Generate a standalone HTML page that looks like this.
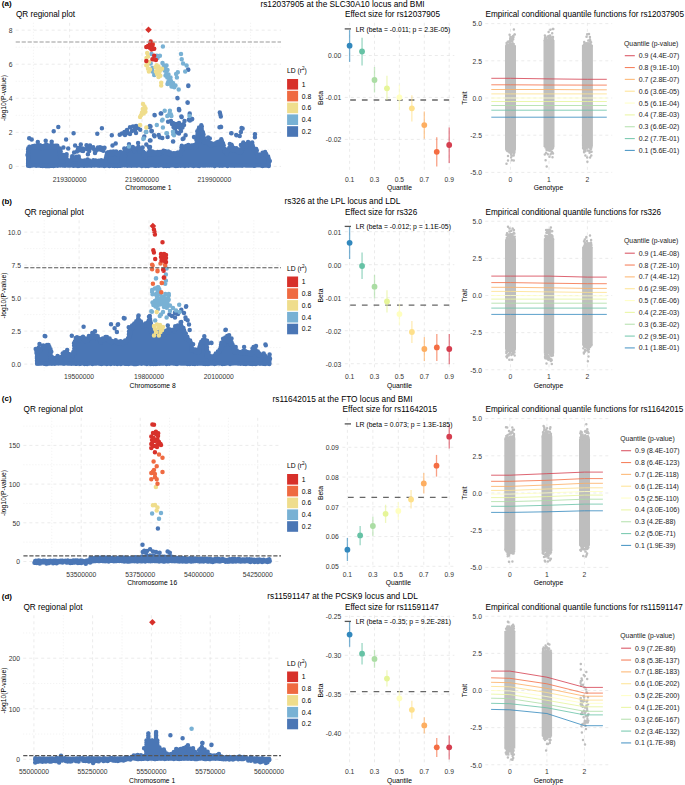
<!DOCTYPE html>
<html><head><meta charset="utf-8"><style>html,body{margin:0;padding:0;background:#fff;overflow:hidden}svg{display:block}text{font-family:"Liberation Sans", sans-serif}</style></head>
<body><svg width="685" height="785" viewBox="0 0 685 785" font-family='"Liberation Sans", sans-serif'>
<rect width="685" height="785" fill="#fff"/>
<text x="1.80" y="6.10" font-size="8.0" font-weight="bold" fill="#000">(a)</text>
<text x="342.50" y="6.70" font-size="8.3" text-anchor="middle" fill="#000">rs12037905 at the SLC30A10 locus and BMI</text>
<text x="15.90" y="17.00" font-size="8.2" fill="#000">QR regional plot</text>
<line x1="15.70" y1="149.37" x2="281.00" y2="149.37" stroke="#ececec" stroke-width="0.75" stroke-dasharray="1,2"/>
<line x1="15.70" y1="115.31" x2="281.00" y2="115.31" stroke="#ececec" stroke-width="0.75" stroke-dasharray="1,2"/>
<line x1="15.70" y1="81.25" x2="281.00" y2="81.25" stroke="#ececec" stroke-width="0.75" stroke-dasharray="1,2"/>
<line x1="15.70" y1="47.19" x2="281.00" y2="47.19" stroke="#ececec" stroke-width="0.75" stroke-dasharray="1,2"/>
<line x1="33.40" y1="22.80" x2="33.40" y2="173.20" stroke="#ececec" stroke-width="0.75" stroke-dasharray="1,2"/>
<line x1="105.80" y1="22.80" x2="105.80" y2="173.20" stroke="#ececec" stroke-width="0.75" stroke-dasharray="1,2"/>
<line x1="178.20" y1="22.80" x2="178.20" y2="173.20" stroke="#ececec" stroke-width="0.75" stroke-dasharray="1,2"/>
<line x1="250.60" y1="22.80" x2="250.60" y2="173.20" stroke="#ececec" stroke-width="0.75" stroke-dasharray="1,2"/>
<line x1="15.70" y1="166.40" x2="281.00" y2="166.40" stroke="#e2e2e2" stroke-width="0.7" stroke-dasharray="3,3"/>
<text x="12.40" y="169.20" font-size="6.75" text-anchor="end" fill="#333333">0</text>
<line x1="15.70" y1="132.34" x2="281.00" y2="132.34" stroke="#e2e2e2" stroke-width="0.7" stroke-dasharray="3,3"/>
<text x="12.40" y="135.14" font-size="6.75" text-anchor="end" fill="#333333">2</text>
<line x1="15.70" y1="98.28" x2="281.00" y2="98.28" stroke="#e2e2e2" stroke-width="0.7" stroke-dasharray="3,3"/>
<text x="12.40" y="101.08" font-size="6.75" text-anchor="end" fill="#333333">4</text>
<line x1="15.70" y1="64.22" x2="281.00" y2="64.22" stroke="#e2e2e2" stroke-width="0.7" stroke-dasharray="3,3"/>
<text x="12.40" y="67.02" font-size="6.75" text-anchor="end" fill="#333333">6</text>
<line x1="15.70" y1="30.16" x2="281.00" y2="30.16" stroke="#e2e2e2" stroke-width="0.7" stroke-dasharray="3,3"/>
<text x="12.40" y="32.96" font-size="6.75" text-anchor="end" fill="#333333">8</text>
<line x1="69.60" y1="22.80" x2="69.60" y2="173.20" stroke="#e2e2e2" stroke-width="0.7" stroke-dasharray="3,3"/>
<text x="69.60" y="181.80" font-size="6.75" text-anchor="middle" fill="#333333">219300000</text>
<line x1="142.00" y1="22.80" x2="142.00" y2="173.20" stroke="#e2e2e2" stroke-width="0.7" stroke-dasharray="3,3"/>
<text x="142.00" y="181.80" font-size="6.75" text-anchor="middle" fill="#333333">219600000</text>
<line x1="214.40" y1="22.80" x2="214.40" y2="173.20" stroke="#e2e2e2" stroke-width="0.7" stroke-dasharray="3,3"/>
<text x="214.40" y="181.80" font-size="6.75" text-anchor="middle" fill="#333333">219900000</text>
<text x="148.35" y="190.30" font-size="6.75" text-anchor="middle" fill="#000">Chromosome 1</text>
<text x="5.60" y="98.00" font-size="6.75" text-anchor="middle" fill="#000" transform="rotate(-90 5.60 98.00)">-log10(P-value)</text>
<polygon points="26.1,153.2 27.0,149.2 29.0,147.7 32.2,146.7 37.8,145.7 42.0,146.2 45.7,144.7 50.0,146.2 53.0,145.7 57.0,146.2 59.8,148.2 60.5,154.8 66.5,155.2 67.0,160.0 72.0,160.0 72.5,156.8 79.2,156.8 79.5,161.0 89.0,161.0 105.4,161.0 106.5,153.2 108.5,152.8 115.7,152.2 120.8,152.8 121.8,161.0 123.8,161.0 124.5,149.2 128.0,148.2 138.1,147.7 142.2,148.2 143.0,151.2 145.3,154.2 148.0,152.2 150.4,151.8 155.0,152.8 165.8,151.2 170.0,152.8 180.7,152.8 181.5,145.7 196.0,145.7 197.5,135.2 199.0,127.2 201.5,126.2 202.5,133.2 203.5,138.7 204.7,139.7 208.0,141.2 211.7,143.3 215.2,143.3 219.0,141.7 221.6,139.7 223.4,145.7 225.1,149.8 226.3,152.7 228.0,150.3 231.0,145.2 233.9,148.6 238.5,149.2 240.3,150.3 244.4,145.2 247.9,142.8 251.4,144.0 253.7,148.1 256.0,149.2 257.2,155.1 259.6,154.5 264.8,152.7 268.3,156.8 270.7,162.1 270.7,166.2 26.1,166.2" fill="#4a76b5"/>
<path d="M28.1 153.1h0M27.5 155.1h0M28.1 151.5h0M28.8 153.1h0M29.1 148.5h0M28.1 149.2h0M28.7 151.0h0M29.4 146.8h0M28.3 148.3h0M32.6 146.2h0M32.5 147.7h0M34.9 145.7h0M34.9 147.4h0M37.5 145.5h0M36.4 147.8h0M40.0 145.2h0M39.3 147.7h0M41.6 146.0h0M42.1 148.4h0M44.2 145.7h0M44.6 147.6h0M46.1 144.4h0M46.3 145.9h0M48.1 145.4h0M47.9 147.1h0M50.2 145.6h0M50.1 147.7h0M53.0 145.5h0M52.8 147.5h0M51.7 141.8h0M55.5 145.8h0M54.7 147.8h0M57.3 145.7h0M57.4 148.1h0M59.8 148.4h0M59.7 150.1h0M60.5 149.8h0M59.3 152.1h0M60.7 151.8h0M60.7 153.9h0M60.1 155.6h0M60.9 157.7h0M63.5 154.9h0M63.1 157.0h0M66.6 154.3h0M66.5 155.9h0M66.4 158.2h0M67.1 160.5h0M66.8 160.0h0M67.6 162.1h0M69.0 160.6h0M68.4 162.2h0M71.8 159.2h0M70.8 160.8h0M72.2 156.2h0M72.1 158.0h0M74.3 157.4h0M74.0 159.3h0M76.6 156.8h0M75.9 158.9h0M78.7 156.6h0M77.6 158.2h0M79.0 158.4h0M79.1 160.1h0M79.8 161.4h0M79.8 163.1h0M81.8 160.8h0M82.1 162.3h0M84.7 160.4h0M85.6 162.2h0M86.4 161.4h0M86.2 163.2h0M87.6 159.5h0M89.3 160.6h0M90.4 162.7h0M91.7 161.4h0M91.7 163.3h0M93.4 160.3h0M93.8 162.2h0M95.6 160.4h0M95.6 162.3h0M98.8 160.7h0M97.6 162.4h0M101.2 160.2h0M100.5 162.4h0M103.5 160.9h0M103.1 163.2h0M105.4 160.7h0M105.9 162.3h0M106.2 157.5h0M105.5 159.8h0M106.5 155.4h0M106.0 157.8h0M107.0 152.9h0M107.9 154.5h0M108.1 152.2h0M109.0 154.5h0M110.7 151.7h0M111.0 154.0h0M113.4 151.5h0M112.8 153.9h0M116.1 151.6h0M116.0 153.4h0M118.6 152.9h0M117.6 154.5h0M120.3 152.0h0M119.7 154.4h0M120.7 154.9h0M121.3 156.5h0M121.3 157.9h0M122.5 160.3h0M121.6 160.5h0M121.9 162.0h0M123.0 157.9h0M123.9 160.1h0M123.8 161.9h0M125.1 155.7h0M124.4 158.2h0M124.7 160.6h0M124.3 155.7h0M124.7 157.5h0M124.0 153.0h0M123.5 155.5h0M124.5 151.0h0M124.9 153.4h0M124.3 148.6h0M125.1 151.0h0M127.8 147.9h0M127.9 150.0h0M130.3 147.8h0M129.2 149.8h0M129.0 144.3h0M132.8 147.1h0M133.5 149.1h0M135.2 148.5h0M134.2 150.9h0M138.4 146.8h0M139.5 149.1h0M139.8 149.0h0M139.3 151.4h0M142.6 147.4h0M141.5 149.2h0M143.3 151.7h0M143.9 153.9h0M144.1 152.7h0M143.3 154.9h0M145.1 155.4h0M145.8 157.4h0M148.4 152.2h0M148.2 154.1h0M150.2 152.1h0M150.0 154.2h0M149.7 150.0h0M152.3 151.5h0M151.7 153.9h0M154.9 152.3h0M153.7 154.4h0M157.8 151.9h0M157.7 154.1h0M160.1 152.1h0M159.5 154.0h0M163.5 150.7h0M164.5 152.5h0M165.3 151.2h0M166.3 152.9h0M168.3 151.5h0M167.8 153.7h0M169.9 152.3h0M170.1 154.6h0M173.1 153.3h0M173.3 154.9h0M175.1 153.2h0M174.0 155.4h0M177.9 152.5h0M177.9 154.2h0M180.2 153.5h0M180.5 155.2h0M181.4 149.7h0M180.6 152.0h0M181.4 147.4h0M182.4 149.9h0M181.8 145.7h0M181.6 147.3h0M183.5 146.7h0M182.6 148.8h0M186.0 146.0h0M185.5 147.7h0M188.3 145.1h0M187.1 147.2h0M191.5 145.6h0M190.8 147.4h0M193.4 145.3h0M193.8 147.6h0M196.5 145.1h0M196.6 147.1h0M196.6 142.9h0M196.1 144.5h0M196.4 139.9h0M197.0 141.9h0M197.4 137.4h0M197.4 139.4h0M197.5 134.3h0M197.2 136.4h0M197.3 131.3h0M197.8 132.9h0M198.2 134.8h0M198.4 129.8h0M197.7 131.4h0M199.1 127.5h0M199.1 130.0h0M201.8 126.4h0M201.6 128.6h0M201.6 128.2h0M201.7 130.0h0M201.3 125.2h0M202.1 131.0h0M202.9 133.1h0M202.9 132.3h0M203.5 134.4h0M203.1 136.0h0M202.9 138.2h0M203.9 138.1h0M204.6 140.4h0M204.5 140.5h0M204.0 142.7h0M208.0 141.2h0M208.0 143.2h0M208.1 137.4h0M209.8 142.7h0M209.4 144.9h0M209.8 138.4h0M211.9 143.6h0M212.1 145.3h0M215.6 143.2h0M215.0 144.8h0M217.1 142.3h0M217.7 144.0h0M219.2 141.5h0M220.0 143.3h0M221.3 139.3h0M222.0 141.6h0M221.9 141.0h0M223.0 143.2h0M222.3 143.8h0M221.9 145.7h0M223.7 145.5h0M222.9 147.6h0M224.7 148.7h0M225.3 150.8h0M225.1 149.5h0M224.3 151.2h0M226.2 151.8h0M226.7 154.0h0M227.6 150.1h0M227.4 152.1h0M229.2 148.0h0M230.1 149.7h0M229.8 144.0h0M231.5 144.7h0M231.7 146.5h0M232.1 146.1h0M231.8 148.1h0M233.6 148.0h0M232.9 150.3h0M236.3 148.3h0M235.9 150.4h0M239.0 149.6h0M237.9 151.9h0M240.1 150.3h0M241.1 152.2h0M241.9 148.5h0M241.1 150.9h0M240.9 144.9h0M242.6 146.3h0M242.5 148.7h0M243.9 144.6h0M242.9 146.9h0M243.3 142.5h0M245.7 144.3h0M246.3 146.5h0M248.1 142.1h0M247.8 144.2h0M251.5 143.1h0M252.6 145.2h0M252.7 145.4h0M252.8 147.4h0M252.2 142.5h0M253.4 147.8h0M253.8 150.1h0M256.2 148.9h0M256.8 150.6h0M256.3 152.7h0M257.1 154.3h0M257.5 155.0h0M257.4 156.9h0M259.1 154.5h0M258.2 156.4h0M262.6 152.8h0M261.4 154.9h0M265.1 152.0h0M264.8 154.2h0M266.2 153.9h0M266.9 156.2h0M268.1 156.5h0M268.2 158.3h0M268.7 158.8h0M269.8 160.9h0M268.7 161.2h0M28.1 165.5h0M28.1 165.7h0M28.9 165.7h0M30.0 165.9h0M31.5 165.4h0M32.4 165.4h0M33.9 165.2h0M35.1 165.6h0M36.2 165.8h0M37.9 165.4h0M39.0 165.4h0M40.3 165.7h0M41.7 165.6h0M42.8 165.9h0M44.2 165.4h0M45.3 165.9h0M46.9 165.9h0M48.5 165.9h0M49.7 165.9h0M51.1 165.8h0M51.9 165.6h0M53.4 165.9h0M54.9 165.7h0M56.1 165.4h0M57.6 165.7h0M58.5 165.5h0M60.2 165.6h0M61.0 165.3h0M62.6 165.6h0M64.0 165.3h0M65.0 165.7h0M66.1 165.2h0M67.7 165.4h0M68.8 165.4h0M70.4 165.6h0M71.3 165.2h0M73.1 165.7h0M74.0 165.8h0M75.2 165.4h0M77.0 165.7h0M78.0 165.9h0M79.5 165.8h0M80.9 165.5h0M82.1 165.6h0M83.6 165.8h0M84.7 165.8h0M86.2 165.4h0M87.0 165.7h0M88.7 165.6h0M89.8 165.5h0M91.3 165.8h0M92.5 165.2h0M93.9 165.5h0M94.8 165.4h0M96.4 165.2h0M97.4 165.4h0M99.1 165.7h0M100.5 165.6h0M101.5 165.6h0M102.8 165.6h0M104.3 165.9h0M105.3 165.7h0M106.6 165.4h0M108.0 165.6h0M109.3 165.9h0M110.4 165.7h0M112.2 165.7h0M113.2 165.4h0M114.4 165.9h0M116.0 165.7h0M117.3 165.9h0M118.6 165.5h0M119.7 165.8h0M120.9 165.7h0M122.3 165.4h0M123.6 165.2h0M124.8 165.5h0M125.9 165.3h0M127.4 165.8h0M128.9 165.4h0M130.4 165.4h0M131.4 165.7h0M132.8 165.5h0M134.2 165.5h0M135.4 165.5h0M136.9 165.7h0M137.7 165.3h0M139.5 165.3h0M140.2 165.4h0M141.8 165.9h0M143.0 165.7h0M144.6 165.2h0M145.8 165.9h0M147.0 165.6h0M148.2 165.9h0M149.9 165.2h0M150.9 165.5h0M152.3 165.2h0M153.4 165.4h0M154.8 165.8h0M156.3 165.8h0M157.5 165.2h0M158.6 165.7h0M159.9 165.6h0M161.5 165.2h0M162.8 165.2h0M163.8 165.9h0M165.0 165.6h0M166.4 165.9h0M168.1 165.4h0M169.1 165.9h0M170.4 165.3h0M171.9 165.4h0M173.0 165.2h0M174.6 165.7h0M175.9 165.9h0M176.8 165.6h0M178.2 165.8h0M179.7 165.3h0M180.7 165.7h0M182.0 165.3h0M183.2 165.6h0M184.8 165.9h0M186.0 165.6h0M187.1 165.5h0M188.5 165.7h0M189.8 165.3h0M191.1 165.5h0M192.4 165.6h0M193.6 165.9h0M195.2 165.6h0M196.1 165.4h0M197.8 165.7h0M199.2 165.9h0M200.2 165.5h0M201.5 165.3h0M202.7 165.4h0M204.0 165.6h0M205.6 165.6h0M206.9 165.3h0M207.9 165.6h0M209.6 165.5h0M210.4 165.2h0M211.9 165.6h0M213.1 165.3h0M214.7 165.9h0M215.8 165.6h0M217.2 165.2h0M218.4 165.3h0M219.7 165.8h0M221.2 165.2h0M222.1 165.7h0M223.5 165.4h0M224.9 165.2h0M226.0 165.3h0M227.5 165.9h0M229.0 165.3h0M230.3 165.4h0M231.5 165.4h0M233.1 165.4h0M234.3 165.7h0M235.6 165.6h0M236.9 165.5h0M238.1 165.6h0M239.3 165.6h0M240.6 165.5h0M242.1 165.7h0M243.2 165.2h0M244.5 165.3h0M245.6 165.5h0M247.1 165.4h0M248.3 165.6h0M249.7 165.5h0M250.8 165.4h0M252.4 165.6h0M253.6 165.8h0M255.0 165.7h0M255.9 165.4h0M257.6 165.3h0M259.0 165.3h0M260.3 165.3h0M261.6 165.8h0M262.6 165.9h0M263.8 165.8h0M265.2 165.5h0M266.4 165.6h0M267.8 165.7h0M268.7 165.6h0M268.7 165.9h0M28.4 152.2h0M28.2 153.7h0M28.1 155.1h0M28.2 156.5h0M28.4 157.9h0M28.1 159.3h0M28.3 160.7h0M28.2 162.1h0M28.1 163.5h0M28.4 164.9h0M268.6 161.2h0M268.7 162.6h0M268.4 164.0h0M268.7 165.4h0" stroke="#4a76b5" stroke-width="4.50" stroke-linecap="round" fill="none"/>

<polygon points="76.0,149.7 80.0,148.2 84.0,148.7 90.0,147.7 96.0,148.7 100.0,147.7 106.5,148.7 106.5,148.7 76.0,148.7" fill="#4a76b5"/>
<path d="M78.0 149.1h0M77.0 151.5h0M78.2 148.1h0M77.7 150.2h0M80.1 147.9h0M79.8 150.2h0M82.4 148.6h0M82.6 150.5h0M83.5 149.1h0M83.1 151.0h0M87.0 147.5h0M87.2 149.2h0M86.5 145.3h0M90.0 148.5h0M89.2 150.9h0M93.2 147.3h0M94.2 149.5h0M95.9 150.8h0M95.0 153.0h0M98.0 147.6h0M98.0 149.6h0M100.0 147.3h0M100.9 149.7h0M102.2 148.1h0M103.2 150.3h0M104.1 148.3h0M103.3 150.7h0M104.5 147.8h0" stroke="#4a76b5" stroke-width="4.50" stroke-linecap="round" fill="none"/>
<path d="M58.3 127.0h0M53.7 131.2h0M73.6 133.3h0M66.1 139.4h0M29.2 138.2h0M31.7 139.6h0M37.8 142.0h0M45.7 140.7h0M63.4 147.6h0M68.2 148.4h0M75.1 145.5h0M80.8 144.5h0M82.3 150.7h0M87.9 154.2h0M74.1 152.5h0M90.0 145.5h0M101.9 128.2h0M97.3 133.8h0M111.8 135.3h0M115.7 143.5h0M112.5 145.5h0M138.1 143.0h0M119.7 134.8h0M122.0 133.5h0M124.5 132.0h0M127.0 130.0h0M130.0 127.2h0M133.0 126.5h0M136.1 126.1h0M138.0 128.0h0M140.2 129.7h0M128.0 133.0h0M132.0 131.0h0M135.0 130.0h0M125.0 135.0h0M130.0 134.0h0M136.0 133.0h0M149.9 126.1h0M151.9 131.0h0M154.0 135.3h0M149.9 140.4h0M146.3 144.5h0M148.9 147.1h0M144.3 136.4h0M154.3 135.8h0M158.7 135.1h0M162.3 137.9h0M167.6 136.9h0M173.0 141.5h0M182.7 138.9h0M185.6 135.3h0M194.0 136.9h0M150.5 140.4h0M151.5 131.2h0M150.5 126.6h0M150.0 147.1h0M171.0 121.0h0M172.0 124.0h0M173.5 127.0h0M175.0 130.0h0M177.0 132.5h0M179.0 133.5h0M181.0 131.0h0M182.5 127.5h0M183.5 124.0h0M184.5 121.0h0M180.0 128.0h0M177.0 127.0h0M176.0 124.0h0M179.0 123.0h0M181.0 125.0h0M189.9 120.5h0M187.7 102.5h0M179.0 110.0h0M154.5 114.9h0M160.7 113.5h0M181.5 117.0h0M189.7 114.1h0M189.1 119.7h0M191.5 119.5h0M219.8 112.4h0M220.3 114.5h0M220.8 116.6h0M220.8 127.0h0M231.2 133.2h0M236.4 135.2h0M241.6 128.0h0M255.0 134.2h0M149.3 127.0h0M151.4 131.1h0M154.5 136.3h0M159.7 137.3h0M150.0 140.4h0M144.0 137.3h0M173.2 141.5h0M183.5 138.4h0M194.3 137.3h0M219.5 127.2h0M231.5 133.2h0M236.2 134.9h0M239.7 136.1h0M240.9 132.0h0M242.6 128.5h0M221.1 127.1h0M254.9 134.3h0M254.9 137.2h0M221.0 127.1h0M188.1 69.6h0M188.4 85.7h0M177.4 98.1h0M187.7 102.8h0M178.9 109.0h0M160.9 113.4h0M177.5 98.2h0M179.3 110.1h0M181.7 116.9h0M189.7 113.4h0M188.9 119.7h0M192.2 118.9h0M188.3 85.9h0M168.1 121.8h0M149.9 126.1h0M173.0 123.0h0M175.0 125.0h0M178.0 126.0h0M181.0 126.5h0M184.0 125.0h0M188.3 69.7h0M188.3 85.4h0M177.5 98.2h0M187.5 102.6h0M179.2 110.3h0M189.7 114.0h0M191.0 118.7h0M189.2 119.6h0M181.3 116.6h0M161.2 113.5h0M154.7 115.2h0" stroke="#4a76b5" stroke-width="4.50" stroke-linecap="round" fill="none"/>
<path d="M162.9 46.4h0M151.5 53.9h0M156.8 55.7h0M159.9 55.7h0M150.7 63.5h0M152.4 67.9h0M154.2 74.9h0M163.8 65.3h0M165.5 67.0h0M164.7 70.5h0M166.4 73.2h0M167.3 77.6h0M169.1 81.1h0M170.8 83.7h0M172.6 85.4h0M174.3 87.2h0M178.7 89.5h0M168.2 81.9h0M169.9 79.3h0M176.1 74.1h0M177.8 72.3h0M176.9 77.6h0M181.0 53.9h0M181.7 59.2h0M183.1 63.5h0M186.6 65.6h0M185.2 71.4h0M162.5 63.0h0M166.5 65.5h0M163.0 68.5h0M167.5 70.0h0M165.5 75.5h0M168.5 74.5h0M170.5 77.5h0M171.0 81.0h0M173.0 83.0h0M175.5 85.5h0M167.5 84.0h0M171.5 86.5h0M153.5 58.5h0M157.5 58.0h0M152.5 71.5h0M164.7 110.8h0M169.9 110.8h0M170.8 114.3h0M167.3 116.1h0M162.0 120.5h0M156.8 124.9h0M162.9 127.5h0M146.3 131.9h0M169.6 113.6h0M171.4 115.9h0M162.6 119.8h0M146.3 131.8h0M143.8 138.4h0M128.9 146.6h0M166.4 133.3h0M174.0 135.3h0M173.0 131.8h0M167.0 133.2h0M173.2 134.2h0M145.8 132.1h0M143.3 138.9h0M189.5 115.9h0" stroke="#78b1d4" stroke-width="4.50" stroke-linecap="round" fill="none"/>
<path d="M147.2 53.0h0M148.0 56.5h0M146.3 65.3h0M148.0 68.8h0M148.9 71.4h0M156.8 65.3h0M157.7 68.8h0M159.4 72.3h0M160.3 75.8h0M155.9 71.4h0M162.0 68.8h0M161.2 82.8h0M161.2 85.4h0M147.2 61.8h0M146.5 58.0h0M149.0 62.0h0M147.5 65.0h0M150.0 69.5h0M155.5 67.0h0M158.5 66.5h0M157.0 74.0h0M160.5 70.0h0M158.5 77.0h0M144.5 106.5h0M142.8 109.1h0M145.4 111.7h0M141.0 115.2h0M140.1 117.0h0M143.7 113.5h0M140.1 124.9h0M146.3 127.5h0M143.0 104.0h0M145.5 108.5h0M142.0 112.5h0" stroke="#efdd8c" stroke-width="4.50" stroke-linecap="round" fill="none"/>
<path d="M152.9 43.9h0" stroke="#ef6a41" stroke-width="4.50" stroke-linecap="round" fill="none"/>
<path d="M150.7 41.6h0M148.0 46.0h0M152.4 45.1h0M154.2 48.7h0M146.3 46.9h0M149.8 47.8h0M154.2 55.7h0M155.9 60.0h0M146.3 60.9h0M152.4 59.2h0M150.0 44.0h0M151.5 49.5h0" stroke="#d7302a" stroke-width="4.50" stroke-linecap="round" fill="none"/>
<polygon points="148.50,26.50 151.80,29.80 148.50,33.10 145.20,29.80" fill="#d7302a"/>
<line x1="15.70" y1="42.06" x2="281.00" y2="42.06" stroke="#9a9a9a" stroke-width="1.05" stroke-dasharray="4.2,1.75"/>
<text x="287.0" y="73.10" font-size="6.75">LD (r<tspan font-size="4.6" dy="-2.7">2</tspan><tspan dy="2.7">)</tspan></text>
<rect x="287.10" y="79.00" width="11.00" height="10.60" fill="#d7302a"/>
<text x="301.80" y="86.70" font-size="6.75" fill="#000">1</text>
<rect x="287.10" y="90.80" width="11.00" height="10.60" fill="#ef6a41"/>
<text x="301.80" y="98.50" font-size="6.75" fill="#000">0.8</text>
<rect x="287.10" y="102.60" width="11.00" height="10.60" fill="#efdd8c"/>
<text x="301.80" y="110.30" font-size="6.75" fill="#000">0.6</text>
<rect x="287.10" y="114.40" width="11.00" height="10.60" fill="#78b1d4"/>
<text x="301.80" y="122.10" font-size="6.75" fill="#000">0.4</text>
<rect x="287.10" y="126.20" width="11.00" height="10.60" fill="#4a76b5"/>
<text x="301.80" y="133.90" font-size="6.75" fill="#000">0.2</text>
<text x="345.00" y="17.00" font-size="8.2" fill="#000">Effect size for rs12037905</text>
<line x1="344.80" y1="55.50" x2="454.30" y2="55.50" stroke="#e2e2e2" stroke-width="0.7" stroke-dasharray="3,3"/>
<text x="341.20" y="58.30" font-size="6.75" text-anchor="end" fill="#333333">0.00</text>
<line x1="344.80" y1="97.45" x2="454.30" y2="97.45" stroke="#e2e2e2" stroke-width="0.7" stroke-dasharray="3,3"/>
<text x="341.20" y="100.25" font-size="6.75" text-anchor="end" fill="#333333">-0.01</text>
<line x1="344.80" y1="139.40" x2="454.30" y2="139.40" stroke="#e2e2e2" stroke-width="0.7" stroke-dasharray="3,3"/>
<text x="341.20" y="142.20" font-size="6.75" text-anchor="end" fill="#333333">-0.02</text>
<line x1="349.60" y1="22.80" x2="349.60" y2="173.20" stroke="#e2e2e2" stroke-width="0.7" stroke-dasharray="3,3"/>
<text x="349.60" y="181.80" font-size="6.75" text-anchor="middle" fill="#333333">0.1</text>
<line x1="374.50" y1="22.80" x2="374.50" y2="173.20" stroke="#e2e2e2" stroke-width="0.7" stroke-dasharray="3,3"/>
<text x="374.50" y="181.80" font-size="6.75" text-anchor="middle" fill="#333333">0.3</text>
<line x1="399.40" y1="22.80" x2="399.40" y2="173.20" stroke="#e2e2e2" stroke-width="0.7" stroke-dasharray="3,3"/>
<text x="399.40" y="181.80" font-size="6.75" text-anchor="middle" fill="#333333">0.5</text>
<line x1="424.30" y1="22.80" x2="424.30" y2="173.20" stroke="#e2e2e2" stroke-width="0.7" stroke-dasharray="3,3"/>
<text x="424.30" y="181.80" font-size="6.75" text-anchor="middle" fill="#333333">0.7</text>
<line x1="449.20" y1="22.80" x2="449.20" y2="173.20" stroke="#e2e2e2" stroke-width="0.7" stroke-dasharray="3,3"/>
<text x="449.20" y="181.80" font-size="6.75" text-anchor="middle" fill="#333333">0.9</text>
<text x="399.55" y="190.30" font-size="6.75" text-anchor="middle" fill="#000">Quantile</text>
<text x="323.00" y="98.00" font-size="6.75" text-anchor="middle" fill="#000" transform="rotate(-90 323.00 98.00)">Beta</text>
<line x1="350.20" y1="100.00" x2="449.20" y2="100.00" stroke="#666666" stroke-width="1.3" stroke-dasharray="5.7,6.0"/>
<line x1="349.60" y1="30.10" x2="349.60" y2="61.90" stroke="#3288bd" stroke-width="1.3" stroke-opacity="0.65"/>
<circle cx="349.60" cy="45.70" r="2.9" fill="#3288bd"/>
<line x1="362.05" y1="37.70" x2="362.05" y2="65.50" stroke="#66c2a5" stroke-width="1.3" stroke-opacity="0.65"/>
<circle cx="362.05" cy="51.50" r="2.9" fill="#66c2a5"/>
<line x1="374.50" y1="67.00" x2="374.50" y2="92.50" stroke="#abdda4" stroke-width="1.3" stroke-opacity="0.65"/>
<circle cx="374.50" cy="80.00" r="2.9" fill="#abdda4"/>
<line x1="386.95" y1="75.70" x2="386.95" y2="100.10" stroke="#e6f598" stroke-width="1.3" stroke-opacity="0.65"/>
<circle cx="386.95" cy="88.30" r="2.9" fill="#e6f598"/>
<line x1="399.40" y1="84.80" x2="399.40" y2="110.00" stroke="#ffffbf" stroke-width="1.3" stroke-opacity="0.65"/>
<circle cx="399.40" cy="97.40" r="2.9" fill="#ffffbf"/>
<line x1="411.85" y1="95.30" x2="411.85" y2="121.50" stroke="#fee08b" stroke-width="1.3" stroke-opacity="0.65"/>
<circle cx="411.85" cy="108.30" r="2.9" fill="#fee08b"/>
<line x1="424.30" y1="111.60" x2="424.30" y2="138.70" stroke="#fdae61" stroke-width="1.3" stroke-opacity="0.65"/>
<circle cx="424.30" cy="125.10" r="2.9" fill="#fdae61"/>
<line x1="436.75" y1="137.20" x2="436.75" y2="166.60" stroke="#f46d43" stroke-width="1.3" stroke-opacity="0.65"/>
<circle cx="436.75" cy="151.80" r="2.9" fill="#f46d43"/>
<line x1="449.20" y1="127.40" x2="449.20" y2="163.00" stroke="#d53e4f" stroke-width="1.3" stroke-opacity="0.65"/>
<circle cx="449.20" cy="145.00" r="2.9" fill="#d53e4f"/>
<line x1="344.70" y1="28.90" x2="351.00" y2="28.90" stroke="#555555" stroke-width="1.3"/>
<text x="355.80" y="31.60" font-size="6.85" fill="#000">LR (beta = -0.011; p = 2.3E-05)</text>
<text x="485.50" y="17.20" font-size="8.2" fill="#000">Empirical conditional quantile functions for rs12037905</text>
<line x1="485.30" y1="23.60" x2="612.20" y2="23.60" stroke="#e2e2e2" stroke-width="0.7" stroke-dasharray="3,3"/>
<text x="481.90" y="26.40" font-size="6.75" text-anchor="end" fill="#333333">5.0</text>
<line x1="485.30" y1="60.80" x2="612.20" y2="60.80" stroke="#e2e2e2" stroke-width="0.7" stroke-dasharray="3,3"/>
<text x="481.90" y="63.60" font-size="6.75" text-anchor="end" fill="#333333">2.5</text>
<line x1="485.30" y1="98.00" x2="612.20" y2="98.00" stroke="#e2e2e2" stroke-width="0.7" stroke-dasharray="3,3"/>
<text x="481.90" y="100.80" font-size="6.75" text-anchor="end" fill="#333333">0.0</text>
<line x1="485.30" y1="135.20" x2="612.20" y2="135.20" stroke="#e2e2e2" stroke-width="0.7" stroke-dasharray="3,3"/>
<text x="481.90" y="138.00" font-size="6.75" text-anchor="end" fill="#333333">-2.5</text>
<line x1="485.30" y1="172.40" x2="612.20" y2="172.40" stroke="#e2e2e2" stroke-width="0.7" stroke-dasharray="3,3"/>
<text x="481.90" y="175.20" font-size="6.75" text-anchor="end" fill="#333333">-5.0</text>
<line x1="510.50" y1="22.80" x2="510.50" y2="173.20" stroke="#e2e2e2" stroke-width="0.7" stroke-dasharray="3,3"/>
<text x="510.50" y="181.80" font-size="6.75" text-anchor="middle" fill="#333333">0</text>
<line x1="549.00" y1="22.80" x2="549.00" y2="173.20" stroke="#e2e2e2" stroke-width="0.7" stroke-dasharray="3,3"/>
<text x="549.00" y="181.80" font-size="6.75" text-anchor="middle" fill="#333333">1</text>
<line x1="587.40" y1="22.80" x2="587.40" y2="173.20" stroke="#e2e2e2" stroke-width="0.7" stroke-dasharray="3,3"/>
<text x="587.40" y="181.80" font-size="6.75" text-anchor="middle" fill="#333333">2</text>
<text x="548.50" y="190.30" font-size="6.75" text-anchor="middle" fill="#000">Genotype</text>
<text x="466.60" y="98.00" font-size="6.75" text-anchor="middle" fill="#000" transform="rotate(-90 466.60 98.00)">Trait</text>
<rect x="505.00" y="45.50" width="11.00" height="104.00" fill="#bebebe"/>
<path d="M511.0 44.7h0M510.2 38.8h0M511.3 44.4h0M510.6 45.9h0M513.0 43.5h0M508.8 46.2h0M513.2 46.2h0M506.6 43.0h0M514.5 34.5h0M511.5 43.3h0M506.3 46.0h0M506.7 44.2h0M508.3 45.9h0M510.2 46.4h0M513.4 44.8h0M511.7 44.3h0M511.9 44.4h0M508.6 44.7h0M514.8 34.5h0M512.3 41.0h0M508.2 45.4h0M506.8 45.5h0M509.6 42.1h0M509.5 40.9h0M513.5 37.0h0M508.0 46.5h0M510.2 39.3h0M509.6 34.7h0M511.6 46.3h0M508.5 42.0h0M509.1 46.2h0M512.7 36.5h0M508.3 46.1h0M506.7 46.2h0M507.7 41.7h0M510.0 44.0h0M512.5 45.9h0M511.7 46.1h0M509.8 46.1h0M508.5 45.8h0M513.1 35.9h0M513.8 45.4h0M509.6 45.8h0M511.7 40.7h0M514.7 46.2h0M508.4 45.8h0M509.0 42.1h0M506.8 45.4h0M511.2 46.2h0M511.4 45.7h0M510.1 45.1h0M510.4 36.9h0M513.7 43.9h0M507.5 45.9h0M513.2 39.3h0M507.8 149.4h0M514.3 152.5h0M514.4 149.2h0M511.4 154.9h0M507.1 150.1h0M514.5 148.6h0M512.3 149.3h0M513.3 149.4h0M508.7 151.2h0M512.4 149.1h0M508.2 148.7h0M513.5 151.0h0M508.6 151.4h0M508.0 156.0h0M508.5 148.6h0M506.7 150.3h0M509.4 149.1h0M507.3 151.0h0M513.9 149.8h0M511.8 160.3h0M511.2 152.0h0M506.5 149.0h0M514.0 148.6h0M514.5 152.1h0M511.7 148.6h0M512.5 150.5h0M514.8 149.7h0M510.9 148.7h0M513.9 152.5h0M512.3 152.5h0M514.1 153.2h0M512.1 149.8h0M513.7 155.4h0M513.0 150.1h0M511.1 154.5h0M509.5 151.4h0M511.4 151.1h0M511.7 148.8h0M513.8 160.5h0M509.5 152.4h0M511.2 152.5h0M513.4 150.2h0M512.7 148.8h0M511.4 148.6h0M508.2 150.5h0M510.5 152.1h0M514.1 151.4h0M506.3 149.4h0M512.0 149.6h0M507.7 149.2h0M511.9 155.6h0M513.9 150.2h0M511.9 149.7h0M509.9 149.2h0M514.1 153.4h0M513.9 29.4h0M511.9 38.4h0M506.5 163.7h0M508.0 160.6h0M511.1 157.6h0" stroke="#bebebe" stroke-width="2.5" stroke-linecap="round" fill="none"/>
<rect x="543.50" y="40.00" width="11.00" height="107.00" fill="#bebebe"/>
<path d="M550.4 39.1h0M545.9 37.7h0M547.9 41.0h0M551.7 40.0h0M549.9 37.5h0M550.4 38.5h0M548.5 40.5h0M552.5 40.5h0M551.7 40.8h0M550.6 40.8h0M548.2 39.8h0M544.9 35.5h0M552.6 40.8h0M545.5 38.9h0M552.8 29.0h0M548.3 40.6h0M547.4 40.6h0M546.1 38.1h0M545.1 37.4h0M551.7 40.4h0M548.3 39.5h0M548.8 38.3h0M545.0 39.5h0M553.0 37.1h0M550.4 29.8h0M547.8 39.7h0M550.5 37.5h0M546.7 40.6h0M549.1 39.6h0M549.0 36.0h0M551.8 40.9h0M549.2 39.3h0M548.4 40.2h0M551.3 39.5h0M549.4 40.7h0M550.7 40.4h0M547.1 40.9h0M550.2 39.7h0M548.6 40.8h0M547.1 40.3h0M552.9 39.1h0M552.9 39.0h0M552.6 40.4h0M546.3 39.6h0M552.5 36.9h0M547.0 41.0h0M547.6 36.6h0M544.8 40.2h0M550.0 40.9h0M553.3 29.0h0M544.9 38.9h0M551.5 39.8h0M550.2 35.6h0M549.2 40.2h0M550.1 39.1h0M552.8 146.9h0M546.1 152.7h0M552.2 147.0h0M552.8 147.0h0M550.7 148.2h0M546.5 149.7h0M546.9 147.0h0M550.7 149.4h0M552.3 146.4h0M546.8 147.6h0M553.1 147.7h0M550.1 148.5h0M553.0 153.6h0M548.3 150.3h0M552.4 148.7h0M549.7 150.7h0M547.9 147.3h0M549.5 150.0h0M550.8 146.1h0M551.6 153.0h0M552.5 152.8h0M551.5 148.3h0M545.5 147.4h0M547.4 147.3h0M550.6 154.2h0M550.1 148.3h0M549.3 146.4h0M548.1 149.6h0M548.2 146.8h0M550.6 147.2h0M545.5 146.5h0M550.7 147.1h0M550.4 150.3h0M547.8 154.2h0M548.9 146.1h0M546.2 147.8h0M547.6 149.3h0M547.5 146.8h0M544.8 154.6h0M547.1 147.3h0M548.4 146.7h0M552.6 146.7h0M550.7 148.1h0M548.7 146.5h0M551.9 148.8h0M548.7 146.9h0M551.9 151.8h0M549.3 146.8h0M548.1 150.3h0M550.4 149.4h0M549.5 156.8h0M547.7 149.4h0M547.5 150.0h0M547.8 148.1h0M545.9 147.1h0M548.6 32.0h0M552.2 33.3h0M545.6 160.2h0M552.5 157.2h0M546.7 166.4h0" stroke="#bebebe" stroke-width="2.5" stroke-linecap="round" fill="none"/>
<rect x="581.90" y="45.00" width="11.00" height="101.50" fill="#bebebe"/>
<path d="M589.0 45.1h0M590.4 42.5h0M585.1 45.4h0M585.0 45.5h0M584.2 42.0h0M584.9 43.7h0M586.8 45.0h0M588.3 40.5h0M585.5 46.0h0M590.6 45.5h0M590.0 41.0h0M589.5 40.7h0M589.9 37.1h0M590.4 45.1h0M589.6 44.0h0M586.8 43.5h0M586.8 44.6h0M584.1 44.9h0M590.0 40.9h0M589.0 34.0h0M589.5 43.6h0M588.9 45.6h0M584.6 44.2h0M587.6 45.3h0M587.1 45.1h0M586.5 43.2h0M587.3 45.6h0M585.1 45.2h0M586.3 45.4h0M588.7 45.8h0M586.5 36.8h0M591.1 42.2h0M584.3 45.9h0M590.3 41.1h0M584.5 42.9h0M590.6 44.4h0M590.0 39.5h0M590.4 45.3h0M589.3 44.6h0M591.5 45.6h0M589.3 43.2h0M588.4 45.3h0M588.2 43.4h0M589.4 44.7h0M585.6 44.7h0M589.0 45.5h0M585.0 45.6h0M588.6 45.8h0M587.8 43.6h0M586.9 45.9h0M583.9 44.7h0M591.7 46.0h0M585.7 45.6h0M588.2 45.1h0M587.1 45.8h0M590.3 146.9h0M586.0 145.5h0M591.4 147.6h0M587.2 147.7h0M585.7 148.8h0M587.4 145.6h0M589.5 152.7h0M589.0 146.4h0M585.3 151.2h0M586.2 148.2h0M585.6 146.3h0M586.1 146.2h0M586.5 145.6h0M589.6 145.8h0M583.1 148.2h0M584.7 150.0h0M587.9 147.5h0M585.6 146.7h0M584.3 147.2h0M584.1 151.5h0M585.0 150.7h0M586.4 146.6h0M584.2 145.6h0M586.9 146.8h0M591.6 151.8h0M587.7 145.6h0M590.0 145.9h0M590.8 146.7h0M584.2 147.9h0M585.2 145.5h0M584.4 151.6h0M586.3 147.5h0M590.0 146.8h0M589.3 146.2h0M591.1 148.8h0M591.0 147.7h0M588.0 147.2h0M590.3 148.4h0M584.1 152.3h0M587.7 145.9h0M587.7 150.5h0M591.4 146.6h0M583.8 146.6h0M583.4 145.7h0M584.0 149.4h0M590.6 149.3h0M590.1 157.5h0M588.5 147.2h0M589.3 150.9h0M589.7 146.5h0M585.8 145.8h0M587.2 157.5h0M589.8 146.4h0M583.1 147.3h0M585.3 145.6h0M587.2 34.3h0M587.4 161.7h0M585.4 155.6h0M591.3 155.6h0" stroke="#bebebe" stroke-width="2.5" stroke-linecap="round" fill="none"/>
<polyline points="491.30,117.20 510.50,117.20 549.00,117.20 587.40,117.20 606.80,117.20" fill="none" stroke="#3288bd" stroke-width="1.0" stroke-opacity="0.8"/>
<polyline points="491.30,110.20 510.50,110.20 549.00,110.20 587.40,110.20 606.80,110.20" fill="none" stroke="#66c2a5" stroke-width="1.0" stroke-opacity="0.8"/>
<polyline points="491.30,105.50 510.50,105.50 549.00,105.50 587.40,105.50 606.80,105.50" fill="none" stroke="#abdda4" stroke-width="1.0" stroke-opacity="0.8"/>
<polyline points="491.30,101.50 510.50,101.50 549.00,101.50 587.40,101.50 606.80,101.50" fill="none" stroke="#e6f598" stroke-width="1.0" stroke-opacity="0.8"/>
<polyline points="491.30,98.00 510.50,98.00 549.00,98.00 587.40,98.00 606.80,98.00" fill="none" stroke="#ffffbf" stroke-width="1.0" stroke-opacity="0.8"/>
<polyline points="491.30,93.90 510.50,93.90 549.00,93.90 587.40,93.90 606.80,93.90" fill="none" stroke="#fee08b" stroke-width="1.0" stroke-opacity="0.8"/>
<polyline points="491.30,89.50 510.50,89.50 549.00,89.50 587.40,89.80 606.80,89.80" fill="none" stroke="#fdae61" stroke-width="1.0" stroke-opacity="0.8"/>
<polyline points="491.30,84.80 510.50,84.80 549.00,85.00 587.40,85.10 606.80,85.10" fill="none" stroke="#f46d43" stroke-width="1.0" stroke-opacity="0.8"/>
<polyline points="491.30,78.30 510.50,78.30 549.00,78.90 587.40,79.30 606.80,79.30" fill="none" stroke="#d53e4f" stroke-width="1.0" stroke-opacity="0.8"/>
<text x="624.00" y="45.60" font-size="6.85" fill="#1a1a1a">Quantile (p-value)</text>
<line x1="624.80" y1="55.70" x2="634.80" y2="55.70" stroke="#d53e4f" stroke-width="1.1" stroke-opacity="0.85"/>
<text x="638.80" y="58.20" font-size="6.95" fill="#1a1a1a">0.9 (4.4E-07)</text>
<line x1="624.80" y1="67.54" x2="634.80" y2="67.54" stroke="#f46d43" stroke-width="1.1" stroke-opacity="0.85"/>
<text x="638.80" y="70.04" font-size="6.95" fill="#1a1a1a">0.8 (9.1E-10)</text>
<line x1="624.80" y1="79.38" x2="634.80" y2="79.38" stroke="#fdae61" stroke-width="1.1" stroke-opacity="0.85"/>
<text x="638.80" y="81.88" font-size="6.95" fill="#1a1a1a">0.7 (2.8E-07)</text>
<line x1="624.80" y1="91.22" x2="634.80" y2="91.22" stroke="#fee08b" stroke-width="1.1" stroke-opacity="0.85"/>
<text x="638.80" y="93.72" font-size="6.95" fill="#1a1a1a">0.6 (3.6E-05)</text>
<line x1="624.80" y1="103.06" x2="634.80" y2="103.06" stroke="#ffffbf" stroke-width="1.1" stroke-opacity="0.85"/>
<text x="638.80" y="105.56" font-size="6.95" fill="#1a1a1a">0.5 (6.1E-04)</text>
<line x1="624.80" y1="114.90" x2="634.80" y2="114.90" stroke="#e6f598" stroke-width="1.1" stroke-opacity="0.85"/>
<text x="638.80" y="117.40" font-size="6.95" fill="#1a1a1a">0.4 (7.8E-03)</text>
<line x1="624.80" y1="126.74" x2="634.80" y2="126.74" stroke="#abdda4" stroke-width="1.1" stroke-opacity="0.85"/>
<text x="638.80" y="129.24" font-size="6.95" fill="#1a1a1a">0.3 (6.6E-02)</text>
<line x1="624.80" y1="138.58" x2="634.80" y2="138.58" stroke="#66c2a5" stroke-width="1.1" stroke-opacity="0.85"/>
<text x="638.80" y="141.08" font-size="6.95" fill="#1a1a1a">0.2 (7.7E-01)</text>
<line x1="624.80" y1="150.42" x2="634.80" y2="150.42" stroke="#3288bd" stroke-width="1.1" stroke-opacity="0.85"/>
<text x="638.80" y="152.92" font-size="6.95" fill="#1a1a1a">0.1 (5.6E-01)</text>
<text x="1.80" y="203.60" font-size="8.0" font-weight="bold" fill="#000">(b)</text>
<text x="342.50" y="204.20" font-size="8.3" text-anchor="middle" fill="#000">rs326 at the LPL locus and LDL</text>
<text x="24.50" y="214.50" font-size="8.2" fill="#000">QR regional plot</text>
<line x1="24.30" y1="347.60" x2="281.00" y2="347.60" stroke="#ececec" stroke-width="0.75" stroke-dasharray="1,2"/>
<line x1="24.30" y1="314.60" x2="281.00" y2="314.60" stroke="#ececec" stroke-width="0.75" stroke-dasharray="1,2"/>
<line x1="24.30" y1="281.60" x2="281.00" y2="281.60" stroke="#ececec" stroke-width="0.75" stroke-dasharray="1,2"/>
<line x1="24.30" y1="248.60" x2="281.00" y2="248.60" stroke="#ececec" stroke-width="0.75" stroke-dasharray="1,2"/>
<line x1="44.20" y1="220.30" x2="44.20" y2="370.70" stroke="#ececec" stroke-width="0.75" stroke-dasharray="1,2"/>
<line x1="114.00" y1="220.30" x2="114.00" y2="370.70" stroke="#ececec" stroke-width="0.75" stroke-dasharray="1,2"/>
<line x1="183.90" y1="220.30" x2="183.90" y2="370.70" stroke="#ececec" stroke-width="0.75" stroke-dasharray="1,2"/>
<line x1="253.80" y1="220.30" x2="253.80" y2="370.70" stroke="#ececec" stroke-width="0.75" stroke-dasharray="1,2"/>
<line x1="24.30" y1="364.10" x2="281.00" y2="364.10" stroke="#e2e2e2" stroke-width="0.7" stroke-dasharray="3,3"/>
<text x="21.00" y="366.90" font-size="6.75" text-anchor="end" fill="#333333">0.0</text>
<line x1="24.30" y1="331.10" x2="281.00" y2="331.10" stroke="#e2e2e2" stroke-width="0.7" stroke-dasharray="3,3"/>
<text x="21.00" y="333.90" font-size="6.75" text-anchor="end" fill="#333333">2.5</text>
<line x1="24.30" y1="298.10" x2="281.00" y2="298.10" stroke="#e2e2e2" stroke-width="0.7" stroke-dasharray="3,3"/>
<text x="21.00" y="300.90" font-size="6.75" text-anchor="end" fill="#333333">5.0</text>
<line x1="24.30" y1="265.10" x2="281.00" y2="265.10" stroke="#e2e2e2" stroke-width="0.7" stroke-dasharray="3,3"/>
<text x="21.00" y="267.90" font-size="6.75" text-anchor="end" fill="#333333">7.5</text>
<line x1="24.30" y1="232.10" x2="281.00" y2="232.10" stroke="#e2e2e2" stroke-width="0.7" stroke-dasharray="3,3"/>
<text x="21.00" y="234.90" font-size="6.75" text-anchor="end" fill="#333333">10.0</text>
<line x1="79.10" y1="220.30" x2="79.10" y2="370.70" stroke="#e2e2e2" stroke-width="0.7" stroke-dasharray="3,3"/>
<text x="79.10" y="379.30" font-size="6.75" text-anchor="middle" fill="#333333">19500000</text>
<line x1="149.00" y1="220.30" x2="149.00" y2="370.70" stroke="#e2e2e2" stroke-width="0.7" stroke-dasharray="3,3"/>
<text x="149.00" y="379.30" font-size="6.75" text-anchor="middle" fill="#333333">19800000</text>
<line x1="218.80" y1="220.30" x2="218.80" y2="370.70" stroke="#e2e2e2" stroke-width="0.7" stroke-dasharray="3,3"/>
<text x="218.80" y="379.30" font-size="6.75" text-anchor="middle" fill="#333333">20100000</text>
<text x="152.65" y="387.80" font-size="6.75" text-anchor="middle" fill="#000">Chromosome 8</text>
<text x="5.60" y="295.50" font-size="6.75" text-anchor="middle" fill="#000" transform="rotate(-90 5.60 295.50)">-log10(P-value)</text>
<polygon points="35.1,353.1 37.0,349.1 40.4,347.1 43.0,346.1 44.5,345.1 48.5,345.1 50.0,349.1 51.5,357.1 55.7,358.3 57.8,355.8 60.0,357.6 63.9,352.1 67.0,354.2 73.1,353.8 74.5,349.1 75.5,338.1 77.2,336.8 83.3,337.3 88.0,338.1 92.1,333.0 96.0,336.1 98.2,337.1 100.3,341.1 102.8,338.6 107.4,336.0 110.0,339.1 112.5,341.1 118.7,341.1 122.7,342.1 127.9,339.1 130.9,327.8 134.0,323.1 138.1,318.6 141.0,321.1 143.2,323.8 147.3,323.1 150.3,319.1 151.2,328.9 152.6,333.1 165.2,333.1 168.0,328.9 173.6,328.9 175.0,326.8 180.6,324.8 182.0,326.1 185.0,333.1 188.0,339.1 190.5,340.1 192.5,348.6 198.8,350.6 200.5,344.1 204.3,338.5 206.8,340.3 207.4,355.2 212.4,356.5 216.1,354.0 221.1,347.8 224.2,339.1 227.0,336.6 231.0,339.1 232.3,344.8 234.7,350.3 239.7,352.1 243.4,351.5 249.6,352.8 255.8,349.6 259.6,354.0 263.3,354.0 267.0,357.8 271.3,357.8 271.3,364.2 35.1,364.2" fill="#4a76b5"/>
<path d="M37.1 353.2h0M37.4 355.3h0M35.7 349.1h0M37.1 350.5h0M36.5 353.0h0M37.3 349.7h0M36.5 351.8h0M38.7 347.5h0M39.3 349.6h0M39.5 344.1h0M40.2 348.2h0M40.1 350.4h0M43.2 345.6h0M44.2 347.5h0M44.4 346.1h0M43.5 347.8h0M47.0 345.1h0M46.8 347.2h0M48.5 345.0h0M48.7 347.0h0M49.4 346.9h0M50.5 349.2h0M50.2 349.3h0M51.3 351.7h0M50.7 352.6h0M50.0 354.9h0M50.8 355.4h0M52.0 357.0h0M51.4 357.0h0M50.6 358.8h0M54.0 358.2h0M52.9 360.4h0M56.1 357.8h0M57.2 359.8h0M57.6 356.0h0M56.5 357.7h0M60.1 357.4h0M59.3 358.9h0M61.1 357.0h0M60.8 358.9h0M62.7 353.6h0M63.0 355.7h0M64.3 352.3h0M64.9 354.0h0M67.5 353.4h0M67.5 355.4h0M67.2 350.0h0M69.6 354.2h0M68.5 356.3h0M73.3 353.8h0M72.9 356.0h0M73.3 351.9h0M74.4 353.7h0M74.6 348.8h0M74.2 350.7h0M74.6 346.2h0M74.3 348.5h0M74.8 342.4h0M74.8 343.2h0M74.1 345.5h0M74.9 341.4h0M74.0 343.2h0M75.8 337.9h0M75.7 340.2h0M77.0 337.2h0M76.9 338.9h0M80.3 337.9h0M79.5 340.2h0M83.0 336.8h0M83.3 339.1h0M85.3 338.6h0M84.8 340.9h0M87.8 338.2h0M87.6 340.6h0M88.9 336.1h0M89.9 338.5h0M90.7 336.0h0M90.0 338.3h0M92.3 332.9h0M92.3 334.6h0M93.8 334.9h0M93.3 337.2h0M95.0 331.2h0M96.4 335.8h0M97.4 338.2h0M97.7 336.3h0M97.2 338.4h0M99.2 338.9h0M100.2 341.0h0M100.1 341.0h0M100.7 342.8h0M102.8 338.6h0M103.6 340.3h0M105.5 337.1h0M104.3 339.2h0M106.9 336.9h0M106.4 338.7h0M108.6 338.4h0M107.4 340.0h0M109.6 338.5h0M108.6 341.0h0M112.1 341.1h0M111.6 343.0h0M115.7 340.3h0M115.4 342.0h0M118.3 341.7h0M118.0 343.3h0M120.6 341.3h0M120.8 343.6h0M123.0 342.0h0M122.7 344.0h0M125.2 340.5h0M125.7 342.5h0M127.9 338.4h0M127.8 340.3h0M128.9 336.4h0M128.6 338.8h0M128.9 334.2h0M129.6 336.4h0M130.0 331.6h0M130.4 333.8h0M129.9 329.3h0M129.0 331.6h0M128.7 327.2h0M131.3 327.0h0M130.5 328.5h0M132.1 325.4h0M132.9 327.9h0M134.3 323.5h0M133.2 325.8h0M136.3 321.3h0M137.3 322.9h0M138.2 318.8h0M139.0 320.5h0M139.3 320.2h0M139.0 322.1h0M140.9 321.4h0M140.7 322.9h0M143.7 324.4h0M142.9 326.6h0M145.4 323.5h0M145.5 325.4h0M147.7 322.5h0M148.3 324.9h0M148.7 320.6h0M149.3 322.3h0M150.0 319.0h0M149.4 321.2h0M150.3 321.1h0M150.8 323.1h0M150.8 323.2h0M149.7 325.2h0M150.6 326.3h0M150.3 328.1h0M150.8 329.2h0M151.1 331.2h0M152.2 330.2h0M152.4 332.2h0M153.0 333.6h0M154.1 335.5h0M154.9 333.2h0M155.4 335.4h0M158.0 332.3h0M157.4 334.0h0M160.5 332.9h0M161.5 334.7h0M162.5 333.7h0M161.5 335.3h0M165.0 333.0h0M164.6 335.1h0M166.1 330.7h0M166.1 332.4h0M168.5 329.0h0M168.2 331.0h0M167.8 325.4h0M170.4 329.7h0M169.4 332.2h0M173.9 329.5h0M174.5 331.3h0M175.2 326.2h0M175.8 328.7h0M177.8 325.6h0M176.9 327.6h0M180.8 324.4h0M180.1 326.6h0M181.7 326.4h0M182.6 328.6h0M183.4 328.1h0M184.0 330.2h0M184.1 330.6h0M184.0 332.4h0M184.6 332.6h0M184.7 334.8h0M185.8 335.9h0M185.5 338.3h0M185.8 333.4h0M187.3 336.8h0M187.0 338.8h0M187.9 339.0h0M188.7 340.6h0M190.1 340.6h0M190.6 342.3h0M191.1 343.2h0M191.7 345.5h0M191.9 345.5h0M191.2 347.6h0M192.2 348.6h0M191.6 350.8h0M193.1 344.3h0M195.0 349.4h0M195.2 351.5h0M196.9 349.9h0M196.4 352.3h0M198.9 349.8h0M199.6 351.9h0M199.4 347.7h0M199.3 349.3h0M199.5 346.9h0M199.3 348.9h0M200.9 343.3h0M200.0 345.5h0M201.3 341.8h0M200.3 343.9h0M202.9 340.1h0M203.7 342.3h0M204.7 339.5h0M205.2 341.7h0M207.1 340.8h0M208.1 343.2h0M207.2 342.4h0M206.1 344.0h0M206.7 344.5h0M206.7 346.7h0M207.0 347.4h0M206.9 349.7h0M206.9 350.1h0M207.8 352.3h0M207.2 353.2h0M206.5 354.7h0M207.7 354.6h0M206.8 356.6h0M209.6 355.5h0M208.8 357.0h0M208.6 352.4h0M212.0 356.5h0M210.8 358.5h0M214.5 355.4h0M214.2 356.9h0M215.8 353.5h0M214.8 355.4h0M217.9 351.4h0M216.8 353.6h0M219.7 349.4h0M219.6 351.9h0M220.8 347.1h0M221.2 349.0h0M221.4 342.7h0M222.0 346.6h0M220.8 348.1h0M221.0 344.7h0M222.2 343.8h0M221.5 346.3h0M223.7 342.2h0M224.7 344.6h0M223.1 338.8h0M224.6 339.0h0M225.5 340.6h0M225.4 337.4h0M225.9 339.9h0M227.2 335.9h0M227.4 338.4h0M228.9 338.9h0M228.3 341.2h0M230.8 339.0h0M231.0 341.2h0M231.6 342.4h0M230.8 344.7h0M231.5 338.6h0M232.5 344.5h0M233.3 346.6h0M233.9 347.1h0M233.8 349.5h0M234.5 349.7h0M234.3 352.2h0M234.7 347.6h0M236.8 350.6h0M237.1 352.4h0M235.7 347.1h0M239.8 352.0h0M240.9 353.7h0M243.3 350.7h0M244.0 352.8h0M245.5 351.3h0M244.5 353.6h0M244.1 346.9h0M247.2 352.0h0M248.2 353.6h0M249.3 352.5h0M249.7 354.8h0M251.5 352.0h0M251.8 354.0h0M252.5 348.6h0M254.0 350.1h0M254.0 352.4h0M253.6 347.0h0M255.4 349.9h0M255.5 352.2h0M257.8 351.5h0M257.5 354.0h0M259.5 353.6h0M258.5 355.3h0M263.7 353.5h0M264.9 355.6h0M265.2 357.0h0M265.0 359.5h0M267.4 358.6h0M267.2 361.1h0M268.9 357.0h0M270.0 358.7h0M269.6 354.4h0M269.3 356.9h0M37.1 363.7h0M37.1 363.7h0M37.6 363.5h0M38.9 363.7h0M40.4 363.4h0M41.4 363.4h0M42.8 363.2h0M44.0 363.8h0M45.6 363.9h0M47.1 363.9h0M48.0 363.3h0M49.3 363.5h0M50.7 363.6h0M51.9 363.8h0M53.2 363.5h0M54.8 363.8h0M55.8 363.3h0M57.4 363.2h0M58.3 363.6h0M59.8 363.3h0M60.8 363.3h0M62.6 363.5h0M64.0 363.8h0M65.3 363.2h0M66.1 363.2h0M67.6 363.4h0M68.6 363.6h0M70.0 363.4h0M71.3 363.8h0M72.8 363.4h0M73.8 363.5h0M75.5 363.7h0M76.9 363.8h0M77.8 363.3h0M79.5 363.8h0M80.6 363.8h0M81.9 363.4h0M83.0 363.2h0M84.6 363.9h0M86.0 363.5h0M87.2 363.9h0M88.6 363.6h0M89.6 363.6h0M90.8 363.3h0M92.4 363.9h0M93.6 363.5h0M94.8 363.5h0M96.4 363.5h0M97.8 363.3h0M98.7 363.6h0M100.0 363.8h0M101.6 363.9h0M102.8 363.2h0M104.0 363.6h0M105.3 363.4h0M106.7 363.9h0M107.7 363.7h0M109.1 363.6h0M110.7 363.9h0M111.9 363.3h0M113.4 363.3h0M114.3 363.8h0M115.6 363.4h0M117.3 363.9h0M118.2 363.5h0M119.5 363.3h0M120.8 363.9h0M121.9 363.3h0M123.3 363.2h0M124.8 363.7h0M126.3 363.7h0M127.6 363.2h0M128.6 363.9h0M129.7 363.4h0M131.3 363.4h0M132.6 363.2h0M133.7 363.9h0M135.0 363.9h0M136.3 363.9h0M137.9 363.7h0M138.9 363.2h0M140.6 363.3h0M141.5 363.8h0M143.2 363.2h0M144.6 363.6h0M145.5 363.2h0M146.8 363.9h0M148.1 363.3h0M149.3 363.3h0M150.7 363.9h0M151.8 363.3h0M153.7 363.9h0M155.0 363.3h0M155.9 363.9h0M157.3 363.7h0M158.5 363.2h0M159.8 363.7h0M161.4 363.6h0M162.5 363.6h0M163.8 363.6h0M165.3 363.3h0M166.5 363.9h0M167.9 363.3h0M169.3 363.8h0M170.1 363.4h0M171.4 363.2h0M173.2 363.5h0M174.4 363.2h0M175.2 363.8h0M177.0 363.9h0M178.2 363.6h0M179.6 363.2h0M180.7 363.5h0M181.8 363.6h0M183.2 363.6h0M184.5 363.4h0M185.8 363.6h0M187.5 363.9h0M188.7 363.8h0M189.7 363.9h0M191.0 363.2h0M192.4 363.7h0M193.6 363.7h0M194.9 363.9h0M196.3 363.5h0M197.6 363.8h0M199.2 363.6h0M200.2 363.6h0M201.2 363.5h0M203.0 363.8h0M203.8 363.8h0M205.3 363.9h0M206.6 363.3h0M208.0 363.9h0M209.3 363.8h0M210.7 363.4h0M211.8 363.6h0M213.1 363.4h0M214.6 363.9h0M215.9 363.3h0M216.9 363.4h0M218.5 363.3h0M219.4 363.4h0M220.9 363.2h0M222.3 363.9h0M223.6 363.7h0M225.1 363.8h0M226.4 363.5h0M227.6 363.2h0M229.0 363.5h0M230.1 363.9h0M231.3 363.3h0M232.9 363.6h0M233.8 363.2h0M235.2 363.2h0M236.8 363.3h0M237.8 363.5h0M239.2 363.5h0M240.6 363.7h0M241.8 363.2h0M243.4 363.7h0M244.2 363.5h0M245.9 363.9h0M246.7 363.2h0M248.3 363.5h0M249.8 363.8h0M250.8 363.5h0M252.2 363.9h0M253.3 363.5h0M254.6 363.7h0M255.8 363.9h0M257.4 363.6h0M258.5 363.3h0M260.0 363.8h0M261.3 363.4h0M262.9 363.7h0M263.9 363.3h0M265.1 363.9h0M266.3 363.6h0M267.9 363.4h0M269.3 363.9h0M269.3 363.7h0M36.9 352.2h0M36.9 353.6h0M37.1 355.1h0M37.0 356.5h0M36.9 357.9h0M37.3 359.2h0M37.0 360.7h0M37.3 362.1h0M37.4 363.5h0M269.0 356.9h0M269.5 358.2h0M269.2 359.7h0M269.1 361.1h0M269.1 362.5h0" stroke="#4a76b5" stroke-width="4.50" stroke-linecap="round" fill="none"/>

<path d="M45.3 336.3h0M71.8 335.8h0M83.6 326.8h0M111.0 324.2h0M118.1 324.2h0M123.8 318.1h0M114.6 328.3h0M116.9 331.9h0M138.6 315.5h0M186.2 306.2h0M181.3 309.7h0M180.6 322.3h0M181.3 327.9h0M175.0 312.5h0M175.0 317.4h0M169.4 314.6h0M149.8 316.0h0M185.5 317.4h0M187.6 320.2h0M189.0 324.4h0M189.7 330.0h0M211.2 342.8h0M225.8 329.8h0M265.8 345.3h0M255.8 346.5h0M186.0 306.7h0M181.2 310.6h0M175.0 312.9h0M124.6 318.2h0M138.3 316.0h0M149.0 316.7h0M181.2 322.0h0M185.7 319.0h0M204.3 336.3h0M211.5 342.9h0M225.4 330.0h0M229.1 335.2h0M256.0 346.0h0M265.4 344.6h0M124.4 318.4h0M117.7 324.7h0M44.7 336.0h0M178.0 314.0h0M172.0 316.0h0M184.0 313.0h0" stroke="#4a76b5" stroke-width="4.50" stroke-linecap="round" fill="none"/>
<path d="M155.9 278.5h0M166.6 268.5h0M165.9 274.6h0M165.9 280.7h0M165.2 283.8h0M156.1 278.2h0M164.0 300.6h0M167.0 303.0h0M170.0 305.5h0M173.0 308.0h0M176.0 310.5h0M179.6 312.0h0M179.2 304.8h0M151.3 311.3h0M159.8 316.0h0M155.2 320.5h0M161.0 314.6h0M166.6 317.4h0M151.9 311.8h0M163.0 312.0h0M170.0 311.0h0M158.0 309.0h0M164.3 302.3h0M167.0 307.0h0M162.5 297.9h0M154.8 288.6h0M162.4 300.6h0M158.3 287.3h0M156.9 298.7h0M157.8 291.1h0M168.8 295.5h0M157.3 295.5h0M167.2 305.0h0M158.4 298.0h0M154.5 302.6h0M157.9 292.2h0M162.1 303.2h0M152.5 302.5h0M168.3 305.4h0M152.1 291.9h0M164.0 306.9h0M157.3 287.6h0M159.3 289.2h0M163.7 304.5h0M160.5 294.0h0M166.8 307.7h0M164.5 303.5h0M152.5 294.3h0M153.4 305.0h0M156.8 294.8h0M161.2 302.0h0M152.1 290.1h0M168.0 305.6h0M158.3 303.4h0M167.8 301.1h0M165.3 302.8h0M158.4 301.3h0M156.5 295.6h0M167.7 301.0h0M164.9 298.1h0M155.8 300.5h0M160.6 304.2h0M164.9 303.7h0M158.0 299.7h0M167.0 304.5h0M158.1 304.9h0M161.9 296.8h0M153.8 304.8h0M165.9 301.7h0M167.9 298.1h0M165.3 293.9h0M164.3 303.1h0M164.6 301.7h0M160.1 299.9h0M155.0 300.8h0M157.3 287.7h0M160.7 292.9h0M164.1 298.3h0M155.5 306.5h0M156.4 293.7h0M168.8 293.9h0M168.7 299.7h0" stroke="#78b1d4" stroke-width="4.50" stroke-linecap="round" fill="none"/>
<path d="M156.7 312.0h0M154.0 326.0h0M157.0 324.5h0M160.0 325.0h0M163.0 327.0h0M155.0 329.0h0M158.9 327.9h0M162.0 330.0h0M154.0 335.6h0M158.9 335.6h0M156.0 332.0h0M160.5 332.0h0" stroke="#efdd8c" stroke-width="4.50" stroke-linecap="round" fill="none"/>
<path d="M152.1 264.7h0M152.1 269.3h0M157.5 271.3h0M160.5 263.6h0M165.1 264.7h0M152.9 283.8h0M162.0 283.0h0M161.3 292.2h0M164.3 277.7h0M152.6 265.6h0M157.5 270.5h0M161.7 283.1h0M165.2 265.6h0" stroke="#ef6a41" stroke-width="4.50" stroke-linecap="round" fill="none"/>
<path d="M153.9 229.5h0M154.4 231.8h0M154.9 234.6h0M162.5 242.2h0M153.3 250.2h0M153.9 252.5h0M155.2 259.0h0M163.6 270.8h0M163.1 269.8h0M163.8 277.5h0M161.0 254.0h0M164.0 254.0h0M166.0 255.0h0M161.0 257.0h0M164.0 257.5h0M166.0 258.0h0M161.5 260.5h0M164.5 261.0h0M166.0 262.0h0" stroke="#d7302a" stroke-width="4.50" stroke-linecap="round" fill="none"/>
<polygon points="152.90,222.70 156.20,226.00 152.90,229.30 149.60,226.00" fill="#d7302a"/>
<line x1="24.30" y1="267.73" x2="281.00" y2="267.73" stroke="#555555" stroke-width="1.05" stroke-dasharray="4.2,1.75"/>
<text x="287.0" y="270.60" font-size="6.75">LD (r<tspan font-size="4.6" dy="-2.7">2</tspan><tspan dy="2.7">)</tspan></text>
<rect x="287.10" y="276.50" width="11.00" height="10.60" fill="#d7302a"/>
<text x="301.80" y="284.20" font-size="6.75" fill="#000">1</text>
<rect x="287.10" y="288.30" width="11.00" height="10.60" fill="#ef6a41"/>
<text x="301.80" y="296.00" font-size="6.75" fill="#000">0.8</text>
<rect x="287.10" y="300.10" width="11.00" height="10.60" fill="#efdd8c"/>
<text x="301.80" y="307.80" font-size="6.75" fill="#000">0.6</text>
<rect x="287.10" y="311.90" width="11.00" height="10.60" fill="#78b1d4"/>
<text x="301.80" y="319.60" font-size="6.75" fill="#000">0.4</text>
<rect x="287.10" y="323.70" width="11.00" height="10.60" fill="#4a76b5"/>
<text x="301.80" y="331.40" font-size="6.75" fill="#000">0.2</text>
<text x="345.00" y="214.50" font-size="8.2" fill="#000">Effect size for rs326</text>
<line x1="344.80" y1="231.70" x2="454.30" y2="231.70" stroke="#e2e2e2" stroke-width="0.7" stroke-dasharray="3,3"/>
<text x="341.20" y="234.50" font-size="6.75" text-anchor="end" fill="#333333">0.01</text>
<line x1="344.80" y1="264.70" x2="454.30" y2="264.70" stroke="#e2e2e2" stroke-width="0.7" stroke-dasharray="3,3"/>
<text x="341.20" y="267.50" font-size="6.75" text-anchor="end" fill="#333333">0.00</text>
<line x1="344.80" y1="297.70" x2="454.30" y2="297.70" stroke="#e2e2e2" stroke-width="0.7" stroke-dasharray="3,3"/>
<text x="341.20" y="300.50" font-size="6.75" text-anchor="end" fill="#333333">-0.01</text>
<line x1="344.80" y1="330.70" x2="454.30" y2="330.70" stroke="#e2e2e2" stroke-width="0.7" stroke-dasharray="3,3"/>
<text x="341.20" y="333.50" font-size="6.75" text-anchor="end" fill="#333333">-0.02</text>
<line x1="344.80" y1="363.70" x2="454.30" y2="363.70" stroke="#e2e2e2" stroke-width="0.7" stroke-dasharray="3,3"/>
<text x="341.20" y="366.50" font-size="6.75" text-anchor="end" fill="#333333">-0.03</text>
<line x1="349.60" y1="220.30" x2="349.60" y2="370.70" stroke="#e2e2e2" stroke-width="0.7" stroke-dasharray="3,3"/>
<text x="349.60" y="379.30" font-size="6.75" text-anchor="middle" fill="#333333">0.1</text>
<line x1="374.52" y1="220.30" x2="374.52" y2="370.70" stroke="#e2e2e2" stroke-width="0.7" stroke-dasharray="3,3"/>
<text x="374.52" y="379.30" font-size="6.75" text-anchor="middle" fill="#333333">0.3</text>
<line x1="399.44" y1="220.30" x2="399.44" y2="370.70" stroke="#e2e2e2" stroke-width="0.7" stroke-dasharray="3,3"/>
<text x="399.44" y="379.30" font-size="6.75" text-anchor="middle" fill="#333333">0.5</text>
<line x1="424.36" y1="220.30" x2="424.36" y2="370.70" stroke="#e2e2e2" stroke-width="0.7" stroke-dasharray="3,3"/>
<text x="424.36" y="379.30" font-size="6.75" text-anchor="middle" fill="#333333">0.7</text>
<line x1="449.28" y1="220.30" x2="449.28" y2="370.70" stroke="#e2e2e2" stroke-width="0.7" stroke-dasharray="3,3"/>
<text x="449.28" y="379.30" font-size="6.75" text-anchor="middle" fill="#333333">0.9</text>
<text x="399.55" y="387.80" font-size="6.75" text-anchor="middle" fill="#000">Quantile</text>
<text x="323.00" y="295.50" font-size="6.75" text-anchor="middle" fill="#000" transform="rotate(-90 323.00 295.50)">Beta</text>
<line x1="350.20" y1="305.10" x2="449.28" y2="305.10" stroke="#666666" stroke-width="1.3" stroke-dasharray="5.7,6.0"/>
<line x1="349.60" y1="226.50" x2="349.60" y2="259.00" stroke="#3288bd" stroke-width="1.3" stroke-opacity="0.65"/>
<circle cx="349.60" cy="242.80" r="2.9" fill="#3288bd"/>
<line x1="362.06" y1="252.60" x2="362.06" y2="279.00" stroke="#66c2a5" stroke-width="1.3" stroke-opacity="0.65"/>
<circle cx="362.06" cy="266.00" r="2.9" fill="#66c2a5"/>
<line x1="374.52" y1="274.90" x2="374.52" y2="298.40" stroke="#abdda4" stroke-width="1.3" stroke-opacity="0.65"/>
<circle cx="374.52" cy="286.70" r="2.9" fill="#abdda4"/>
<line x1="386.98" y1="290.20" x2="386.98" y2="312.50" stroke="#e6f598" stroke-width="1.3" stroke-opacity="0.65"/>
<circle cx="386.98" cy="301.40" r="2.9" fill="#e6f598"/>
<line x1="399.44" y1="303.50" x2="399.44" y2="325.20" stroke="#ffffbf" stroke-width="1.3" stroke-opacity="0.65"/>
<circle cx="399.44" cy="314.10" r="2.9" fill="#ffffbf"/>
<line x1="411.90" y1="320.90" x2="411.90" y2="343.10" stroke="#fee08b" stroke-width="1.3" stroke-opacity="0.65"/>
<circle cx="411.90" cy="332.00" r="2.9" fill="#fee08b"/>
<line x1="424.36" y1="337.10" x2="424.36" y2="361.00" stroke="#fdae61" stroke-width="1.3" stroke-opacity="0.65"/>
<circle cx="424.36" cy="349.00" r="2.9" fill="#fdae61"/>
<line x1="436.82" y1="333.90" x2="436.82" y2="361.00" stroke="#f46d43" stroke-width="1.3" stroke-opacity="0.65"/>
<circle cx="436.82" cy="347.40" r="2.9" fill="#f46d43"/>
<line x1="449.28" y1="333.90" x2="449.28" y2="364.20" stroke="#d53e4f" stroke-width="1.3" stroke-opacity="0.65"/>
<circle cx="449.28" cy="349.00" r="2.9" fill="#d53e4f"/>
<line x1="344.70" y1="226.40" x2="351.00" y2="226.40" stroke="#555555" stroke-width="1.3"/>
<text x="355.80" y="229.10" font-size="6.85" fill="#000">LR (beta = -0.012; p = 1.1E-05)</text>
<text x="485.50" y="214.70" font-size="8.2" fill="#000">Empirical conditional quantile functions for rs326</text>
<line x1="485.30" y1="221.25" x2="612.20" y2="221.25" stroke="#e2e2e2" stroke-width="0.7" stroke-dasharray="3,3"/>
<text x="481.90" y="224.05" font-size="6.75" text-anchor="end" fill="#333333">5.0</text>
<line x1="485.30" y1="258.38" x2="612.20" y2="258.38" stroke="#e2e2e2" stroke-width="0.7" stroke-dasharray="3,3"/>
<text x="481.90" y="261.18" font-size="6.75" text-anchor="end" fill="#333333">2.5</text>
<line x1="485.30" y1="295.50" x2="612.20" y2="295.50" stroke="#e2e2e2" stroke-width="0.7" stroke-dasharray="3,3"/>
<text x="481.90" y="298.30" font-size="6.75" text-anchor="end" fill="#333333">0.0</text>
<line x1="485.30" y1="332.62" x2="612.20" y2="332.62" stroke="#e2e2e2" stroke-width="0.7" stroke-dasharray="3,3"/>
<text x="481.90" y="335.43" font-size="6.75" text-anchor="end" fill="#333333">-2.5</text>
<line x1="485.30" y1="369.75" x2="612.20" y2="369.75" stroke="#e2e2e2" stroke-width="0.7" stroke-dasharray="3,3"/>
<text x="481.90" y="372.55" font-size="6.75" text-anchor="end" fill="#333333">-5.0</text>
<line x1="510.50" y1="220.30" x2="510.50" y2="370.70" stroke="#e2e2e2" stroke-width="0.7" stroke-dasharray="3,3"/>
<text x="510.50" y="379.30" font-size="6.75" text-anchor="middle" fill="#333333">0</text>
<line x1="549.00" y1="220.30" x2="549.00" y2="370.70" stroke="#e2e2e2" stroke-width="0.7" stroke-dasharray="3,3"/>
<text x="549.00" y="379.30" font-size="6.75" text-anchor="middle" fill="#333333">1</text>
<line x1="587.40" y1="220.30" x2="587.40" y2="370.70" stroke="#e2e2e2" stroke-width="0.7" stroke-dasharray="3,3"/>
<text x="587.40" y="379.30" font-size="6.75" text-anchor="middle" fill="#333333">2</text>
<text x="548.50" y="387.80" font-size="6.75" text-anchor="middle" fill="#000">Genotype</text>
<text x="466.60" y="295.50" font-size="6.75" text-anchor="middle" fill="#000" transform="rotate(-90 466.60 295.50)">Trait</text>
<rect x="505.00" y="239.50" width="11.00" height="110.00" fill="#bebebe"/>
<path d="M512.1 240.0h0M510.3 237.5h0M513.0 239.8h0M510.6 235.6h0M508.2 238.4h0M509.4 240.5h0M506.8 237.9h0M508.2 235.8h0M506.6 239.7h0M512.6 228.5h0M511.5 234.3h0M509.0 240.4h0M507.2 238.4h0M509.4 231.4h0M513.2 240.0h0M514.2 240.1h0M510.9 238.7h0M510.4 239.2h0M506.5 239.9h0M508.2 234.5h0M508.0 236.0h0M513.9 230.1h0M512.8 236.3h0M512.5 237.9h0M510.3 240.1h0M507.9 235.2h0M513.8 232.8h0M509.3 238.9h0M509.5 238.7h0M509.5 228.5h0M507.0 240.4h0M514.7 236.7h0M510.4 238.4h0M512.6 238.1h0M511.4 239.7h0M511.6 238.1h0M507.7 239.9h0M514.2 239.2h0M511.3 239.2h0M507.1 239.4h0M513.2 240.3h0M509.4 236.0h0M512.0 237.1h0M514.4 233.6h0M514.7 238.9h0M511.3 230.7h0M510.4 234.1h0M508.3 239.1h0M507.6 234.2h0M513.1 240.3h0M510.4 236.0h0M506.6 235.1h0M508.7 239.6h0M507.7 238.9h0M509.1 240.3h0M514.7 355.4h0M510.3 352.6h0M514.4 349.4h0M512.5 350.7h0M508.0 348.6h0M513.0 354.0h0M511.4 354.9h0M511.2 350.2h0M508.8 354.2h0M508.6 350.8h0M506.3 352.9h0M514.4 352.0h0M511.3 348.6h0M513.5 351.6h0M508.4 351.1h0M514.4 350.1h0M507.3 355.6h0M507.0 348.8h0M510.0 348.6h0M513.7 349.0h0M507.3 351.7h0M509.0 350.8h0M508.1 350.5h0M507.8 349.0h0M512.3 349.9h0M506.6 350.9h0M513.7 352.2h0M513.0 353.0h0M510.2 348.5h0M512.8 348.7h0M512.3 349.1h0M512.2 349.4h0M506.6 349.6h0M508.9 350.0h0M508.7 355.4h0M510.9 350.6h0M507.0 357.4h0M510.6 351.3h0M514.5 352.5h0M512.2 349.6h0M511.0 350.7h0M513.2 348.7h0M509.3 359.8h0M514.7 349.6h0M506.9 348.8h0M513.2 348.7h0M510.1 352.8h0M506.4 351.4h0M510.0 351.6h0M509.5 350.7h0M508.1 350.0h0M509.9 348.7h0M512.3 349.4h0M512.4 353.6h0M508.2 350.3h0M508.0 226.8h0M507.0 233.3h0M512.5 234.4h0M506.4 356.6h0M512.1 359.7h0" stroke="#bebebe" stroke-width="2.5" stroke-linecap="round" fill="none"/>
<rect x="543.80" y="238.50" width="10.40" height="115.00" fill="#bebebe"/>
<path d="M546.1 230.0h0M553.0 239.4h0M546.0 238.9h0M547.8 236.3h0M546.9 232.9h0M547.6 229.9h0M552.5 236.7h0M552.4 236.0h0M545.4 235.8h0M549.7 233.1h0M546.5 238.4h0M549.7 233.8h0M551.2 231.2h0M549.5 229.8h0M549.9 235.9h0M552.7 238.6h0M551.2 238.4h0M550.2 230.2h0M551.6 239.0h0M546.5 236.2h0M549.3 239.3h0M552.4 239.4h0M549.1 237.4h0M550.3 237.9h0M547.5 232.1h0M549.7 238.1h0M549.8 238.4h0M548.5 237.1h0M549.2 236.1h0M553.0 239.2h0M548.5 238.2h0M552.4 238.0h0M549.1 230.4h0M545.8 238.0h0M546.4 232.7h0M547.8 237.1h0M547.9 238.3h0M545.3 238.9h0M551.4 237.2h0M546.6 236.4h0M545.4 236.0h0M551.6 237.9h0M548.7 231.9h0M549.0 233.9h0M549.7 237.3h0M550.9 227.5h0M550.8 237.6h0M547.8 236.4h0M551.6 234.9h0M552.5 236.7h0M549.0 239.4h0M547.7 236.5h0M550.5 238.9h0M547.2 237.8h0M552.7 239.4h0M545.9 353.8h0M547.0 353.2h0M546.4 358.5h0M545.8 353.5h0M546.7 354.4h0M550.9 353.8h0M551.7 360.3h0M548.0 352.6h0M545.3 358.2h0M548.9 353.2h0M551.0 353.9h0M548.7 356.3h0M546.8 353.4h0M545.5 353.4h0M546.3 355.8h0M550.2 359.1h0M549.0 352.7h0M545.3 355.3h0M545.2 354.5h0M545.0 356.9h0M552.9 355.5h0M546.9 358.1h0M546.1 354.8h0M551.9 353.8h0M545.1 357.6h0M550.1 353.9h0M551.4 353.1h0M549.4 359.2h0M551.8 353.8h0M546.5 354.7h0M546.3 353.5h0M549.1 358.0h0M551.5 356.1h0M546.5 363.4h0M552.0 354.1h0M548.1 356.8h0M546.6 355.7h0M545.4 353.0h0M546.9 353.9h0M552.8 354.7h0M549.5 353.0h0M549.8 358.5h0M551.1 354.7h0M552.6 352.6h0M551.5 356.0h0M545.8 357.7h0M546.4 352.7h0M552.5 354.6h0M548.3 359.7h0M550.9 355.4h0M552.8 353.7h0M550.8 361.0h0M551.4 359.5h0M547.6 355.7h0M546.9 353.5h0M552.2 231.3h0M551.8 364.1h0" stroke="#bebebe" stroke-width="2.5" stroke-linecap="round" fill="none"/>
<rect x="582.10" y="247.00" width="10.60" height="98.50" fill="#bebebe"/>
<path d="M591.1 240.2h0M584.0 241.3h0M586.8 245.3h0M584.4 245.7h0M586.9 247.4h0M587.0 247.3h0M584.0 247.9h0M586.8 244.3h0M589.3 245.8h0M583.8 246.7h0M588.1 243.4h0M588.4 244.8h0M586.3 237.4h0M586.3 243.7h0M588.7 245.5h0M584.0 246.9h0M589.2 246.1h0M587.0 245.3h0M584.8 244.9h0M586.0 247.4h0M584.9 242.9h0M584.1 247.6h0M585.6 247.9h0M590.0 245.4h0M586.3 246.8h0M585.8 247.0h0M587.8 243.5h0M584.2 247.1h0M589.1 243.4h0M585.3 242.7h0M590.8 245.6h0M591.1 245.3h0M591.3 247.5h0M586.7 247.8h0M589.9 247.9h0M591.3 244.5h0M591.1 243.1h0M591.4 245.7h0M586.1 243.9h0M586.4 237.0h0M583.9 247.4h0M584.9 246.1h0M591.1 239.9h0M584.1 247.3h0M584.7 245.7h0M590.0 245.6h0M586.8 247.1h0M586.9 241.1h0M590.6 246.7h0M590.6 243.0h0M586.7 244.5h0M590.1 244.5h0M585.3 244.9h0M586.7 247.0h0M587.9 243.6h0M590.1 346.9h0M588.5 344.8h0M587.9 345.7h0M585.3 349.9h0M583.9 353.6h0M587.7 347.0h0M587.9 345.3h0M587.0 346.4h0M583.3 348.3h0M589.7 345.9h0M590.4 345.0h0M588.9 345.2h0M587.0 345.1h0M584.0 346.1h0M587.2 348.1h0M587.7 348.0h0M587.6 346.9h0M590.7 345.6h0M590.5 344.8h0M587.4 350.5h0M588.8 349.0h0M585.7 347.3h0M586.2 345.7h0M591.2 345.6h0M586.5 345.8h0M590.0 346.1h0M587.8 346.4h0M585.6 345.4h0M585.1 344.8h0M590.3 345.4h0M584.2 346.6h0M584.3 346.4h0M586.9 347.0h0M585.4 350.4h0M585.3 350.2h0M588.5 356.5h0M589.9 344.6h0M586.3 345.5h0M590.2 345.0h0M589.4 344.8h0M588.9 346.0h0M583.9 345.5h0M588.7 351.9h0M591.3 345.1h0M584.8 351.8h0M588.3 344.6h0M589.3 344.9h0M589.1 346.4h0M589.6 347.0h0M588.2 349.7h0M586.0 347.2h0M584.1 344.9h0M585.0 350.3h0M585.9 346.2h0M587.7 347.4h0M590.0 235.4h0M584.8 239.5h0M583.8 352.5h0M588.9 349.5h0M587.9 361.3h0" stroke="#bebebe" stroke-width="2.5" stroke-linecap="round" fill="none"/>
<polyline points="491.30,314.40 510.50,314.40 549.00,314.40 587.40,314.40 606.80,314.40" fill="none" stroke="#3288bd" stroke-width="1.0" stroke-opacity="0.8"/>
<polyline points="491.30,308.10 510.50,308.10 549.00,308.10 587.40,308.10 606.80,308.10" fill="none" stroke="#66c2a5" stroke-width="1.0" stroke-opacity="0.8"/>
<polyline points="491.30,303.20 510.50,303.20 549.00,303.20 587.40,303.20 606.80,303.20" fill="none" stroke="#abdda4" stroke-width="1.0" stroke-opacity="0.8"/>
<polyline points="491.30,299.10 510.50,299.10 549.00,299.10 587.40,299.10 606.80,299.10" fill="none" stroke="#e6f598" stroke-width="1.0" stroke-opacity="0.8"/>
<polyline points="491.30,295.50 510.50,295.50 549.00,295.70 587.40,295.90 606.80,295.90" fill="none" stroke="#ffffbf" stroke-width="1.0" stroke-opacity="0.8"/>
<polyline points="491.30,291.40 510.50,291.40 549.00,291.90 587.40,292.40 606.80,292.40" fill="none" stroke="#fee08b" stroke-width="1.0" stroke-opacity="0.8"/>
<polyline points="491.30,287.30 510.50,287.30 549.00,287.80 587.40,288.40 606.80,288.40" fill="none" stroke="#fdae61" stroke-width="1.0" stroke-opacity="0.8"/>
<polyline points="491.30,282.60 510.50,282.60 549.00,283.20 587.40,283.70 606.80,283.70" fill="none" stroke="#f46d43" stroke-width="1.0" stroke-opacity="0.8"/>
<polyline points="491.30,276.10 510.50,276.10 549.00,276.10 587.40,277.10 606.80,277.10" fill="none" stroke="#d53e4f" stroke-width="1.0" stroke-opacity="0.8"/>
<text x="624.00" y="243.10" font-size="6.85" fill="#1a1a1a">Quantile (p-value)</text>
<line x1="624.80" y1="253.20" x2="634.80" y2="253.20" stroke="#d53e4f" stroke-width="1.1" stroke-opacity="0.85"/>
<text x="638.80" y="255.70" font-size="6.95" fill="#1a1a1a">0.9 (1.4E-08)</text>
<line x1="624.80" y1="265.04" x2="634.80" y2="265.04" stroke="#f46d43" stroke-width="1.1" stroke-opacity="0.85"/>
<text x="638.80" y="267.54" font-size="6.95" fill="#1a1a1a">0.8 (7.2E-10)</text>
<line x1="624.80" y1="276.88" x2="634.80" y2="276.88" stroke="#fdae61" stroke-width="1.1" stroke-opacity="0.85"/>
<text x="638.80" y="279.38" font-size="6.95" fill="#1a1a1a">0.7 (4.4E-12)</text>
<line x1="624.80" y1="288.72" x2="634.80" y2="288.72" stroke="#fee08b" stroke-width="1.1" stroke-opacity="0.85"/>
<text x="638.80" y="291.22" font-size="6.95" fill="#1a1a1a">0.6 (2.9E-09)</text>
<line x1="624.80" y1="300.56" x2="634.80" y2="300.56" stroke="#ffffbf" stroke-width="1.1" stroke-opacity="0.85"/>
<text x="638.80" y="303.06" font-size="6.95" fill="#1a1a1a">0.5 (7.6E-06)</text>
<line x1="624.80" y1="312.40" x2="634.80" y2="312.40" stroke="#e6f598" stroke-width="1.1" stroke-opacity="0.85"/>
<text x="638.80" y="314.90" font-size="6.95" fill="#1a1a1a">0.4 (2.2E-03)</text>
<line x1="624.80" y1="324.24" x2="634.80" y2="324.24" stroke="#abdda4" stroke-width="1.1" stroke-opacity="0.85"/>
<text x="638.80" y="326.74" font-size="6.95" fill="#1a1a1a">0.3 (6.3E-02)</text>
<line x1="624.80" y1="336.08" x2="634.80" y2="336.08" stroke="#66c2a5" stroke-width="1.1" stroke-opacity="0.85"/>
<text x="638.80" y="338.58" font-size="6.95" fill="#1a1a1a">0.2 (9.5E-01)</text>
<line x1="624.80" y1="347.92" x2="634.80" y2="347.92" stroke="#3288bd" stroke-width="1.1" stroke-opacity="0.85"/>
<text x="638.80" y="350.42" font-size="6.95" fill="#1a1a1a">0.1 (1.8E-01)</text>
<text x="1.80" y="401.10" font-size="8.0" font-weight="bold" fill="#000">(c)</text>
<text x="342.50" y="401.70" font-size="8.3" text-anchor="middle" fill="#000">rs11642015 at the FTO locus and BMI</text>
<text x="23.60" y="412.00" font-size="8.2" fill="#000">QR regional plot</text>
<line x1="23.40" y1="542.15" x2="281.00" y2="542.15" stroke="#ececec" stroke-width="0.75" stroke-dasharray="1,2"/>
<line x1="23.40" y1="503.45" x2="281.00" y2="503.45" stroke="#ececec" stroke-width="0.75" stroke-dasharray="1,2"/>
<line x1="23.40" y1="464.75" x2="281.00" y2="464.75" stroke="#ececec" stroke-width="0.75" stroke-dasharray="1,2"/>
<line x1="23.40" y1="426.05" x2="281.00" y2="426.05" stroke="#ececec" stroke-width="0.75" stroke-dasharray="1,2"/>
<line x1="51.80" y1="417.80" x2="51.80" y2="568.20" stroke="#ececec" stroke-width="0.75" stroke-dasharray="1,2"/>
<line x1="110.70" y1="417.80" x2="110.70" y2="568.20" stroke="#ececec" stroke-width="0.75" stroke-dasharray="1,2"/>
<line x1="169.60" y1="417.80" x2="169.60" y2="568.20" stroke="#ececec" stroke-width="0.75" stroke-dasharray="1,2"/>
<line x1="228.40" y1="417.80" x2="228.40" y2="568.20" stroke="#ececec" stroke-width="0.75" stroke-dasharray="1,2"/>
<line x1="23.40" y1="561.50" x2="281.00" y2="561.50" stroke="#e2e2e2" stroke-width="0.7" stroke-dasharray="3,3"/>
<text x="20.10" y="564.30" font-size="6.75" text-anchor="end" fill="#333333">0</text>
<line x1="23.40" y1="522.80" x2="281.00" y2="522.80" stroke="#e2e2e2" stroke-width="0.7" stroke-dasharray="3,3"/>
<text x="20.10" y="525.60" font-size="6.75" text-anchor="end" fill="#333333">50</text>
<line x1="23.40" y1="484.10" x2="281.00" y2="484.10" stroke="#e2e2e2" stroke-width="0.7" stroke-dasharray="3,3"/>
<text x="20.10" y="486.90" font-size="6.75" text-anchor="end" fill="#333333">100</text>
<line x1="23.40" y1="445.40" x2="281.00" y2="445.40" stroke="#e2e2e2" stroke-width="0.7" stroke-dasharray="3,3"/>
<text x="20.10" y="448.20" font-size="6.75" text-anchor="end" fill="#333333">150</text>
<line x1="81.20" y1="417.80" x2="81.20" y2="568.20" stroke="#e2e2e2" stroke-width="0.7" stroke-dasharray="3,3"/>
<text x="81.20" y="576.80" font-size="6.75" text-anchor="middle" fill="#333333">53500000</text>
<line x1="140.20" y1="417.80" x2="140.20" y2="568.20" stroke="#e2e2e2" stroke-width="0.7" stroke-dasharray="3,3"/>
<text x="140.20" y="576.80" font-size="6.75" text-anchor="middle" fill="#333333">53750000</text>
<line x1="199.00" y1="417.80" x2="199.00" y2="568.20" stroke="#e2e2e2" stroke-width="0.7" stroke-dasharray="3,3"/>
<text x="199.00" y="576.80" font-size="6.75" text-anchor="middle" fill="#333333">54000000</text>
<line x1="257.70" y1="417.80" x2="257.70" y2="568.20" stroke="#e2e2e2" stroke-width="0.7" stroke-dasharray="3,3"/>
<text x="257.70" y="576.80" font-size="6.75" text-anchor="middle" fill="#333333">54250000</text>
<text x="152.20" y="585.30" font-size="6.75" text-anchor="middle" fill="#000">Chromosome 16</text>
<text x="5.60" y="493.00" font-size="6.75" text-anchor="middle" fill="#000" transform="rotate(-90 5.60 493.00)">-log10(P-value)</text>
<polygon points="33.3,561.8 36.0,561.4 90.0,561.4 91.0,558.6 100.0,558.4 140.0,558.1 145.0,556.6 150.0,556.4 160.0,557.1 170.0,556.9 175.0,558.1 180.0,558.6 215.0,559.6 271.4,560.4 271.4,561.8 33.3,561.8" fill="#4a76b5"/>
<path d="M35.3 561.2h0M34.5 562.7h0M35.9 560.7h0M36.9 563.0h0M38.7 560.5h0M38.2 562.2h0M40.5 560.9h0M39.8 563.4h0M43.7 560.7h0M43.0 562.5h0M45.9 561.1h0M46.5 563.5h0M48.7 560.9h0M49.1 562.9h0M50.4 560.7h0M50.3 562.3h0M53.6 560.8h0M53.1 563.2h0M55.7 560.8h0M56.6 563.2h0M58.1 560.9h0M57.9 562.6h0M60.4 560.7h0M61.1 562.3h0M62.5 560.7h0M62.6 562.6h0M65.3 560.7h0M66.5 562.4h0M67.8 560.6h0M67.3 562.5h0M70.6 561.0h0M70.2 563.0h0M73.2 560.6h0M72.6 562.8h0M75.4 560.5h0M74.8 562.4h0M77.4 560.6h0M77.9 563.0h0M80.6 560.5h0M81.2 562.9h0M82.2 560.7h0M82.8 562.6h0M85.5 561.5h0M85.8 563.8h0M87.3 560.6h0M86.5 562.5h0M90.5 560.9h0M90.1 562.4h0M90.5 558.1h0M90.2 559.9h0M92.8 558.3h0M94.0 560.2h0M95.2 557.7h0M94.4 559.9h0M97.4 557.6h0M96.3 559.6h0M99.7 557.7h0M99.8 559.9h0M102.4 557.4h0M103.6 559.4h0M104.7 557.5h0M104.6 559.3h0M107.9 557.5h0M108.7 559.5h0M109.5 557.4h0M108.8 559.1h0M112.9 557.7h0M112.0 559.2h0M115.4 558.5h0M115.2 560.9h0M117.7 557.9h0M118.4 560.1h0M120.0 557.6h0M120.9 560.0h0M122.9 557.5h0M122.5 559.6h0M125.3 557.8h0M125.4 559.9h0M127.7 557.9h0M127.1 560.3h0M130.5 558.3h0M131.6 560.4h0M132.0 557.8h0M133.0 559.4h0M135.5 557.3h0M134.7 559.5h0M137.6 557.4h0M138.2 559.8h0M139.7 558.2h0M138.6 560.5h0M142.1 556.5h0M142.9 558.8h0M145.4 556.5h0M144.7 558.7h0M147.3 555.9h0M148.3 558.1h0M150.0 555.5h0M148.9 557.6h0M152.5 555.7h0M153.4 557.8h0M154.6 556.3h0M154.7 557.8h0M157.8 556.6h0M158.6 558.2h0M160.0 556.8h0M159.6 558.5h0M162.5 556.7h0M163.6 558.3h0M164.6 556.8h0M164.6 558.7h0M167.9 556.7h0M168.5 558.2h0M170.4 556.2h0M171.2 558.1h0M172.8 557.0h0M172.0 559.3h0M174.7 557.5h0M174.3 559.6h0M177.9 557.9h0M178.4 559.4h0M179.8 558.2h0M180.3 560.2h0M182.1 558.0h0M181.5 560.3h0M184.9 558.0h0M185.2 560.2h0M187.6 559.1h0M187.2 561.5h0M190.0 558.3h0M190.8 560.6h0M192.6 558.3h0M192.5 559.9h0M195.3 558.6h0M194.4 560.1h0M197.1 558.7h0M197.9 560.4h0M200.4 558.7h0M200.0 560.8h0M202.1 558.8h0M201.9 561.2h0M204.7 558.7h0M204.2 560.2h0M207.0 558.8h0M208.1 561.2h0M210.3 559.0h0M209.5 561.0h0M212.5 559.6h0M212.7 562.0h0M215.3 558.9h0M215.6 561.1h0M217.7 558.8h0M218.0 561.2h0M219.7 559.2h0M219.9 561.6h0M222.6 559.0h0M222.1 560.8h0M224.6 559.8h0M225.6 561.7h0M227.2 559.9h0M227.9 561.7h0M229.6 559.2h0M229.7 561.4h0M232.3 559.0h0M232.0 561.5h0M234.7 559.1h0M235.9 561.6h0M237.5 559.2h0M237.7 561.0h0M239.1 559.1h0M240.1 561.5h0M242.3 559.4h0M241.4 561.2h0M244.2 559.4h0M244.9 561.6h0M246.9 559.3h0M248.0 561.0h0M249.4 559.3h0M248.2 561.2h0M251.4 559.4h0M250.4 561.9h0M254.0 559.8h0M254.6 561.9h0M257.1 559.7h0M258.0 562.0h0M259.2 559.6h0M259.3 561.6h0M261.2 560.0h0M262.1 562.0h0M263.6 559.8h0M263.0 561.7h0M266.7 560.2h0M267.5 562.0h0M268.8 559.6h0M269.7 561.1h0M269.4 559.5h0M35.3 560.9h0M35.3 561.4h0M36.1 560.9h0M37.2 561.1h0M38.6 560.9h0M40.0 561.5h0M41.2 561.5h0M42.7 561.1h0M43.9 561.4h0M45.1 560.8h0M46.4 561.5h0M47.5 561.3h0M49.1 561.2h0M49.9 561.3h0M51.4 561.4h0M52.9 561.0h0M54.3 561.3h0M55.3 561.4h0M56.9 561.5h0M58.2 561.3h0M59.4 561.2h0M60.6 561.5h0M61.8 560.8h0M63.3 561.1h0M64.5 561.2h0M65.6 560.9h0M66.8 561.4h0M68.6 561.3h0M69.5 561.5h0M71.2 561.2h0M72.0 561.4h0M73.7 561.2h0M74.6 561.3h0M75.9 561.1h0M77.3 561.0h0M79.0 561.3h0M80.3 561.0h0M81.3 561.2h0M82.4 561.1h0M84.3 561.4h0M85.5 561.0h0M86.7 561.4h0M88.0 561.1h0M89.0 560.8h0M90.7 561.5h0M91.7 561.4h0M93.0 561.3h0M94.6 561.0h0M95.8 561.0h0M97.0 560.8h0M98.2 561.0h0M99.8 560.9h0M101.1 560.8h0M102.5 560.9h0M103.3 560.9h0M105.1 561.3h0M106.3 561.1h0M107.2 561.0h0M108.7 561.5h0M109.8 560.9h0M111.5 560.8h0M112.9 561.0h0M113.9 561.3h0M115.4 560.8h0M116.7 560.9h0M117.9 560.8h0M119.3 560.9h0M120.2 560.8h0M121.6 561.0h0M123.3 561.2h0M124.2 561.5h0M125.4 560.9h0M127.2 561.5h0M128.3 561.5h0M129.2 561.5h0M130.9 561.3h0M132.3 560.8h0M133.2 560.9h0M134.7 561.2h0M136.0 561.0h0M137.4 561.4h0M138.8 560.8h0M139.7 560.9h0M141.0 561.2h0M142.3 561.2h0M143.7 561.0h0M145.2 561.5h0M146.2 561.0h0M148.0 560.9h0M148.7 560.9h0M150.5 561.3h0M151.9 561.1h0M152.6 561.0h0M154.3 561.1h0M155.3 561.1h0M156.8 561.0h0M158.1 560.9h0M159.1 561.4h0M160.8 561.1h0M161.8 561.0h0M163.3 561.5h0M164.6 561.5h0M165.9 560.9h0M167.3 561.2h0M168.6 561.3h0M169.5 561.1h0M171.3 560.9h0M172.1 560.9h0M173.6 561.1h0M174.9 561.3h0M176.1 561.0h0M177.7 561.2h0M179.2 561.5h0M180.1 561.0h0M181.5 561.2h0M182.7 561.4h0M183.9 561.1h0M185.2 561.5h0M186.8 561.5h0M187.8 561.3h0M189.4 560.8h0M190.8 561.4h0M191.6 561.5h0M193.4 561.2h0M194.5 561.0h0M195.5 561.1h0M197.3 560.9h0M198.4 561.0h0M199.8 561.5h0M201.2 561.0h0M202.3 560.8h0M203.6 561.4h0M205.1 560.8h0M206.2 560.8h0M207.5 561.5h0M208.7 561.4h0M210.4 561.4h0M211.2 561.5h0M213.0 561.5h0M213.7 560.8h0M215.2 561.2h0M216.6 560.8h0M218.0 561.3h0M219.3 561.2h0M220.5 561.3h0M221.5 561.1h0M222.9 560.8h0M224.6 561.0h0M225.6 561.0h0M227.1 560.8h0M228.4 560.8h0M229.9 560.9h0M231.1 561.2h0M232.2 561.0h0M233.4 561.4h0M234.8 561.2h0M235.9 561.2h0M237.2 561.1h0M238.8 561.2h0M240.0 561.2h0M241.1 561.5h0M242.7 561.3h0M244.2 561.1h0M245.1 561.0h0M246.4 561.0h0M247.7 560.9h0M249.1 561.0h0M250.3 561.3h0M251.6 561.4h0M253.2 561.0h0M254.5 560.9h0M255.4 561.5h0M256.6 560.8h0M258.4 560.8h0M259.6 561.2h0M260.6 560.9h0M262.4 561.1h0M263.2 561.1h0M264.8 561.0h0M265.8 561.4h0M267.1 560.8h0M268.3 561.5h0M269.4 561.3h0M269.4 561.5h0M35.2 560.9h0M269.3 559.5h0M269.5 561.0h0" stroke="#4a76b5" stroke-width="4.50" stroke-linecap="round" fill="none"/>

<path d="M142.5 544.8h0M142.8 552.1h0M144.2 550.7h0M150.1 549.2h0M153.0 551.4h0M159.6 552.8h0M167.6 551.4h0M169.8 552.8h0M157.9 528.5h0M147.0 551.0h0M146.0 552.5h0M156.0 552.0h0" stroke="#4a76b5" stroke-width="4.50" stroke-linecap="round" fill="none"/>
<path d="M152.1 513.6h0M161.0 512.9h0M159.0 518.7h0" stroke="#78b1d4" stroke-width="4.50" stroke-linecap="round" fill="none"/>
<path d="M155.9 486.9h0M152.9 505.2h0M157.5 507.5h0M156.7 510.6h0M155.0 505.0h0" stroke="#efdd8c" stroke-width="4.50" stroke-linecap="round" fill="none"/>
<path d="M159.0 454.4h0M162.5 457.8h0M153.6 461.6h0M156.7 466.2h0M152.9 471.6h0M151.3 473.1h0M154.9 473.9h0M162.5 471.9h0M151.3 479.2h0M156.7 479.2h0M157.5 483.8h0M154.0 470.0h0M155.0 477.0h0" stroke="#ef6a41" stroke-width="4.50" stroke-linecap="round" fill="none"/>
<path d="M152.4 424.5h0M154.0 424.8h0M155.9 431.8h0M158.2 433.3h0M151.3 436.4h0M153.6 437.9h0M157.5 439.5h0M160.5 444.0h0M157.5 444.8h0M151.3 444.0h0M151.3 447.9h0M154.9 452.2h0M153.0 433.0h0M156.0 434.0h0M158.0 436.0h0M152.0 440.0h0M155.0 441.0h0M159.0 442.0h0M161.0 445.0h0M154.0 446.0h0M157.0 447.0h0M152.0 444.0h0" stroke="#d7302a" stroke-width="4.50" stroke-linecap="round" fill="none"/>
<line x1="23.40" y1="555.85" x2="281.00" y2="555.85" stroke="#555555" stroke-width="1.05" stroke-dasharray="4.2,1.75"/>
<text x="287.0" y="468.10" font-size="6.75">LD (r<tspan font-size="4.6" dy="-2.7">2</tspan><tspan dy="2.7">)</tspan></text>
<rect x="287.10" y="474.00" width="11.00" height="10.60" fill="#d7302a"/>
<text x="301.80" y="481.70" font-size="6.75" fill="#000">1</text>
<rect x="287.10" y="485.80" width="11.00" height="10.60" fill="#ef6a41"/>
<text x="301.80" y="493.50" font-size="6.75" fill="#000">0.8</text>
<rect x="287.10" y="497.60" width="11.00" height="10.60" fill="#efdd8c"/>
<text x="301.80" y="505.30" font-size="6.75" fill="#000">0.6</text>
<rect x="287.10" y="509.40" width="11.00" height="10.60" fill="#78b1d4"/>
<text x="301.80" y="517.10" font-size="6.75" fill="#000">0.4</text>
<rect x="287.10" y="521.20" width="11.00" height="10.60" fill="#4a76b5"/>
<text x="301.80" y="528.90" font-size="6.75" fill="#000">0.2</text>
<text x="342.60" y="412.00" font-size="8.2" fill="#000">Effect size for rs11642015</text>
<line x1="342.40" y1="447.30" x2="454.30" y2="447.30" stroke="#e2e2e2" stroke-width="0.7" stroke-dasharray="3,3"/>
<text x="338.80" y="450.10" font-size="6.75" text-anchor="end" fill="#333333">0.09</text>
<line x1="342.40" y1="477.05" x2="454.30" y2="477.05" stroke="#e2e2e2" stroke-width="0.7" stroke-dasharray="3,3"/>
<text x="338.80" y="479.85" font-size="6.75" text-anchor="end" fill="#333333">0.08</text>
<line x1="342.40" y1="506.80" x2="454.30" y2="506.80" stroke="#e2e2e2" stroke-width="0.7" stroke-dasharray="3,3"/>
<text x="338.80" y="509.60" font-size="6.75" text-anchor="end" fill="#333333">0.07</text>
<line x1="342.40" y1="536.55" x2="454.30" y2="536.55" stroke="#e2e2e2" stroke-width="0.7" stroke-dasharray="3,3"/>
<text x="338.80" y="539.35" font-size="6.75" text-anchor="end" fill="#333333">0.06</text>
<line x1="342.40" y1="566.30" x2="454.30" y2="566.30" stroke="#e2e2e2" stroke-width="0.7" stroke-dasharray="3,3"/>
<text x="338.80" y="569.10" font-size="6.75" text-anchor="end" fill="#333333">0.05</text>
<line x1="347.40" y1="417.80" x2="347.40" y2="568.20" stroke="#e2e2e2" stroke-width="0.7" stroke-dasharray="3,3"/>
<text x="347.40" y="576.80" font-size="6.75" text-anchor="middle" fill="#333333">0.1</text>
<line x1="372.86" y1="417.80" x2="372.86" y2="568.20" stroke="#e2e2e2" stroke-width="0.7" stroke-dasharray="3,3"/>
<text x="372.86" y="576.80" font-size="6.75" text-anchor="middle" fill="#333333">0.3</text>
<line x1="398.32" y1="417.80" x2="398.32" y2="568.20" stroke="#e2e2e2" stroke-width="0.7" stroke-dasharray="3,3"/>
<text x="398.32" y="576.80" font-size="6.75" text-anchor="middle" fill="#333333">0.5</text>
<line x1="423.78" y1="417.80" x2="423.78" y2="568.20" stroke="#e2e2e2" stroke-width="0.7" stroke-dasharray="3,3"/>
<text x="423.78" y="576.80" font-size="6.75" text-anchor="middle" fill="#333333">0.7</text>
<line x1="449.24" y1="417.80" x2="449.24" y2="568.20" stroke="#e2e2e2" stroke-width="0.7" stroke-dasharray="3,3"/>
<text x="449.24" y="576.80" font-size="6.75" text-anchor="middle" fill="#333333">0.9</text>
<text x="398.35" y="585.30" font-size="6.75" text-anchor="middle" fill="#000">Quantile</text>
<text x="323.00" y="493.00" font-size="6.75" text-anchor="middle" fill="#000" transform="rotate(-90 323.00 493.00)">Beta</text>
<line x1="348.00" y1="497.30" x2="449.24" y2="497.30" stroke="#666666" stroke-width="1.3" stroke-dasharray="5.7,6.0"/>
<line x1="347.40" y1="537.90" x2="347.40" y2="561.00" stroke="#3288bd" stroke-width="1.3" stroke-opacity="0.65"/>
<circle cx="347.40" cy="549.70" r="2.9" fill="#3288bd"/>
<line x1="360.13" y1="525.90" x2="360.13" y2="545.30" stroke="#66c2a5" stroke-width="1.3" stroke-opacity="0.65"/>
<circle cx="360.13" cy="535.40" r="2.9" fill="#66c2a5"/>
<line x1="372.86" y1="516.70" x2="372.86" y2="535.90" stroke="#abdda4" stroke-width="1.3" stroke-opacity="0.65"/>
<circle cx="372.86" cy="526.00" r="2.9" fill="#abdda4"/>
<line x1="385.59" y1="504.70" x2="385.59" y2="522.90" stroke="#e6f598" stroke-width="1.3" stroke-opacity="0.65"/>
<circle cx="385.59" cy="513.80" r="2.9" fill="#e6f598"/>
<line x1="398.32" y1="501.90" x2="398.32" y2="520.10" stroke="#ffffbf" stroke-width="1.3" stroke-opacity="0.65"/>
<circle cx="398.32" cy="511.00" r="2.9" fill="#ffffbf"/>
<line x1="411.05" y1="490.00" x2="411.05" y2="508.60" stroke="#fee08b" stroke-width="1.3" stroke-opacity="0.65"/>
<circle cx="411.05" cy="499.50" r="2.9" fill="#fee08b"/>
<line x1="423.78" y1="473.10" x2="423.78" y2="493.50" stroke="#fdae61" stroke-width="1.3" stroke-opacity="0.65"/>
<circle cx="423.78" cy="483.40" r="2.9" fill="#fdae61"/>
<line x1="436.51" y1="454.90" x2="436.51" y2="476.60" stroke="#f46d43" stroke-width="1.3" stroke-opacity="0.65"/>
<circle cx="436.51" cy="465.70" r="2.9" fill="#f46d43"/>
<line x1="449.24" y1="424.80" x2="449.24" y2="448.60" stroke="#d53e4f" stroke-width="1.3" stroke-opacity="0.65"/>
<circle cx="449.24" cy="436.70" r="2.9" fill="#d53e4f"/>
<line x1="344.70" y1="423.90" x2="351.00" y2="423.90" stroke="#555555" stroke-width="1.3"/>
<text x="355.80" y="426.60" font-size="6.85" fill="#000">LR (beta = 0.073; p = 1.3E-185)</text>
<text x="485.50" y="412.20" font-size="8.2" fill="#000">Empirical conditional quantile functions for rs11642015</text>
<line x1="485.30" y1="418.60" x2="608.50" y2="418.60" stroke="#e2e2e2" stroke-width="0.7" stroke-dasharray="3,3"/>
<text x="481.90" y="421.40" font-size="6.75" text-anchor="end" fill="#333333">5.0</text>
<line x1="485.30" y1="455.80" x2="608.50" y2="455.80" stroke="#e2e2e2" stroke-width="0.7" stroke-dasharray="3,3"/>
<text x="481.90" y="458.60" font-size="6.75" text-anchor="end" fill="#333333">2.5</text>
<line x1="485.30" y1="493.00" x2="608.50" y2="493.00" stroke="#e2e2e2" stroke-width="0.7" stroke-dasharray="3,3"/>
<text x="481.90" y="495.80" font-size="6.75" text-anchor="end" fill="#333333">0.0</text>
<line x1="485.30" y1="530.20" x2="608.50" y2="530.20" stroke="#e2e2e2" stroke-width="0.7" stroke-dasharray="3,3"/>
<text x="481.90" y="533.00" font-size="6.75" text-anchor="end" fill="#333333">-2.5</text>
<line x1="485.30" y1="567.40" x2="608.50" y2="567.40" stroke="#e2e2e2" stroke-width="0.7" stroke-dasharray="3,3"/>
<text x="481.90" y="570.20" font-size="6.75" text-anchor="end" fill="#333333">-5.0</text>
<line x1="509.80" y1="417.80" x2="509.80" y2="568.20" stroke="#e2e2e2" stroke-width="0.7" stroke-dasharray="3,3"/>
<text x="509.80" y="576.80" font-size="6.75" text-anchor="middle" fill="#333333">0</text>
<line x1="546.90" y1="417.80" x2="546.90" y2="568.20" stroke="#e2e2e2" stroke-width="0.7" stroke-dasharray="3,3"/>
<text x="546.90" y="576.80" font-size="6.75" text-anchor="middle" fill="#333333">1</text>
<line x1="584.50" y1="417.80" x2="584.50" y2="568.20" stroke="#e2e2e2" stroke-width="0.7" stroke-dasharray="3,3"/>
<text x="584.50" y="576.80" font-size="6.75" text-anchor="middle" fill="#333333">2</text>
<text x="548.50" y="585.30" font-size="6.75" text-anchor="middle" fill="#000">Genotype</text>
<text x="466.60" y="493.00" font-size="6.75" text-anchor="middle" fill="#000" transform="rotate(-90 466.60 493.00)">Trait</text>
<rect x="504.30" y="438.50" width="11.00" height="112.00" fill="#bebebe"/>
<path d="M506.5 439.5h0M511.4 438.0h0M506.5 439.1h0M512.0 438.7h0M511.9 439.0h0M506.7 436.2h0M509.4 437.2h0M514.1 437.9h0M505.7 439.2h0M509.0 431.1h0M508.3 438.8h0M513.7 438.1h0M507.4 438.8h0M510.2 436.9h0M512.7 430.3h0M507.3 438.2h0M514.0 434.1h0M511.8 439.4h0M511.1 433.4h0M512.4 438.8h0M507.2 435.6h0M507.4 436.4h0M508.4 439.4h0M508.9 438.3h0M512.7 436.4h0M513.9 429.7h0M512.3 427.5h0M507.0 438.4h0M510.2 436.6h0M506.3 436.1h0M513.4 438.9h0M511.5 436.7h0M508.9 439.2h0M511.1 432.3h0M507.2 427.5h0M512.4 437.7h0M512.3 437.7h0M506.5 437.0h0M514.0 439.2h0M507.2 439.1h0M511.6 438.3h0M509.6 433.7h0M512.3 437.4h0M508.7 438.5h0M511.0 436.7h0M506.5 439.4h0M511.7 439.1h0M513.9 436.0h0M507.7 435.1h0M514.0 435.1h0M505.6 438.2h0M507.9 438.1h0M505.9 438.9h0M512.9 439.1h0M510.8 439.3h0M507.2 550.2h0M508.1 554.7h0M509.4 550.1h0M510.0 553.1h0M509.0 555.4h0M511.7 551.7h0M511.7 551.4h0M506.6 551.4h0M512.2 549.9h0M513.6 553.6h0M510.5 553.0h0M512.8 550.0h0M509.2 549.9h0M508.8 550.0h0M509.2 550.6h0M510.2 553.2h0M512.2 550.3h0M512.6 553.5h0M510.8 549.6h0M507.7 556.3h0M512.5 550.2h0M509.0 550.9h0M508.8 554.6h0M507.3 550.2h0M511.5 550.8h0M512.1 550.9h0M507.6 549.7h0M509.6 552.4h0M513.5 551.6h0M507.1 550.5h0M509.6 549.6h0M509.6 550.6h0M505.5 549.5h0M512.0 550.9h0M513.3 550.6h0M509.0 552.1h0M507.5 554.0h0M512.8 552.3h0M508.2 551.8h0M510.4 549.8h0M508.7 550.1h0M513.6 551.8h0M510.0 552.9h0M508.2 555.4h0M511.3 551.0h0M507.4 551.9h0M512.6 551.1h0M511.6 550.3h0M513.7 549.6h0M508.3 553.0h0M512.4 561.5h0M507.6 549.7h0M514.1 551.5h0M505.9 550.0h0M505.9 550.6h0M506.0 427.3h0M512.5 432.4h0M509.0 561.8h0" stroke="#bebebe" stroke-width="2.5" stroke-linecap="round" fill="none"/>
<rect x="541.50" y="436.40" width="10.80" height="114.10" fill="#bebebe"/>
<path d="M544.5 437.2h0M550.3 436.3h0M548.8 435.3h0M547.0 437.1h0M547.1 431.8h0M550.1 428.7h0M542.7 436.0h0M543.8 433.2h0M548.8 437.4h0M549.7 431.8h0M544.4 428.2h0M543.7 437.1h0M543.6 426.0h0M542.9 436.9h0M543.0 437.2h0M544.1 436.1h0M550.5 436.3h0M549.5 436.9h0M547.5 433.4h0M549.2 434.8h0M544.6 434.7h0M544.7 436.2h0M551.0 435.9h0M543.3 435.7h0M549.5 435.5h0M548.6 435.6h0M543.2 437.1h0M543.1 434.1h0M545.9 436.3h0M543.0 436.8h0M550.7 437.4h0M550.7 433.9h0M550.7 435.4h0M547.9 431.4h0M547.0 435.2h0M545.9 436.6h0M544.3 433.5h0M547.0 431.7h0M549.6 434.6h0M543.9 434.3h0M542.7 436.5h0M550.7 437.3h0M550.8 434.7h0M545.4 432.8h0M550.4 427.2h0M543.4 435.6h0M544.1 436.2h0M543.4 436.0h0M550.9 433.7h0M549.3 436.7h0M546.8 434.8h0M545.9 430.3h0M543.0 432.2h0M544.2 427.3h0M550.1 437.4h0M548.4 553.3h0M545.9 553.9h0M545.4 549.9h0M550.9 558.7h0M546.4 550.3h0M550.3 551.3h0M549.7 549.5h0M547.3 550.4h0M543.4 549.9h0M546.9 555.9h0M550.0 560.2h0M543.3 553.7h0M551.0 552.2h0M543.3 551.6h0M551.0 550.1h0M544.8 560.8h0M548.7 550.7h0M544.3 551.6h0M547.9 561.5h0M542.9 550.9h0M549.0 551.6h0M543.4 550.1h0M550.4 553.4h0M546.7 550.9h0M547.1 552.5h0M545.0 549.9h0M544.4 550.2h0M546.0 549.8h0M549.8 550.2h0M550.8 550.7h0M545.0 554.5h0M547.5 550.0h0M547.2 551.4h0M547.2 549.9h0M546.4 553.8h0M550.4 550.4h0M551.1 550.6h0M542.7 553.0h0M544.0 551.3h0M546.2 554.1h0M550.7 549.8h0M547.8 554.3h0M543.3 552.0h0M545.2 561.5h0M546.8 551.7h0M542.9 551.4h0M546.8 556.2h0M549.9 551.0h0M548.7 555.4h0M545.6 556.6h0M545.6 549.8h0M549.3 552.3h0M548.0 553.5h0M548.3 552.3h0M542.8 552.1h0M544.1 430.3h0M547.1 428.3h0M544.0 557.0h0M548.5 558.0h0" stroke="#bebebe" stroke-width="2.5" stroke-linecap="round" fill="none"/>
<rect x="579.00" y="438.50" width="11.00" height="107.00" fill="#bebebe"/>
<path d="M585.6 437.0h0M582.6 434.4h0M587.9 436.3h0M581.8 432.3h0M585.5 436.3h0M588.5 437.4h0M584.0 437.2h0M585.7 430.9h0M582.9 438.4h0M580.7 437.4h0M586.5 436.7h0M587.5 437.8h0M585.0 431.6h0M581.2 436.1h0M588.6 439.3h0M582.0 438.5h0M586.6 432.7h0M583.0 439.1h0M582.5 438.7h0M584.7 439.5h0M583.6 438.4h0M581.1 438.9h0M587.7 439.4h0M585.0 435.4h0M581.5 439.1h0M582.9 439.1h0M582.6 439.3h0M581.9 438.8h0M584.1 436.3h0M583.3 437.6h0M587.0 437.2h0M580.8 438.4h0M583.5 437.5h0M581.2 435.0h0M580.3 433.3h0M584.0 437.2h0M587.8 438.4h0M581.6 435.9h0M585.5 437.5h0M581.0 439.4h0M586.5 436.7h0M583.8 437.6h0M582.4 437.4h0M588.5 433.2h0M580.4 437.5h0M587.1 438.0h0M581.1 438.3h0M586.3 438.9h0M582.7 436.6h0M586.7 436.6h0M587.3 429.3h0M587.2 437.8h0M587.7 431.7h0M585.2 435.3h0M587.5 437.4h0M586.4 547.4h0M581.0 545.3h0M585.2 545.4h0M581.9 547.1h0M588.4 545.1h0M588.2 544.7h0M585.1 548.9h0M586.0 556.5h0M588.3 544.5h0M588.1 546.1h0M581.4 549.5h0M580.4 544.6h0M587.0 549.1h0M581.2 545.3h0M587.1 545.9h0M587.7 548.6h0M586.7 554.8h0M580.3 549.9h0M587.6 544.5h0M583.0 547.4h0M583.1 544.9h0M584.5 545.7h0M581.9 546.3h0M581.9 544.8h0M581.1 544.9h0M581.3 546.1h0M584.9 549.3h0M585.7 546.3h0M580.4 545.3h0M583.1 544.7h0M582.4 545.8h0M587.4 545.6h0M584.1 544.5h0M582.6 545.9h0M582.1 548.4h0M581.6 544.6h0M583.2 556.0h0M588.5 544.9h0M588.4 547.6h0M587.2 545.7h0M582.2 544.6h0M584.6 549.2h0M583.5 549.2h0M580.9 550.8h0M581.8 547.4h0M587.8 545.2h0M587.2 546.2h0M586.5 545.5h0M585.6 551.6h0M585.9 545.3h0M587.1 553.5h0M583.6 546.3h0M586.8 544.8h0M582.1 545.0h0M581.6 544.6h0M586.3 424.2h0M580.8 431.4h0M581.2 546.5h0" stroke="#bebebe" stroke-width="2.5" stroke-linecap="round" fill="none"/>
<polyline points="491.10,512.40 509.80,512.40 546.90,511.80 584.50,510.80 602.90,510.80" fill="none" stroke="#3288bd" stroke-width="1.0" stroke-opacity="0.8"/>
<polyline points="491.10,506.30 509.80,506.30 546.90,505.30 584.50,504.10 602.90,504.10" fill="none" stroke="#66c2a5" stroke-width="1.0" stroke-opacity="0.8"/>
<polyline points="491.10,501.60 509.80,501.60 546.90,500.60 584.50,499.20 602.90,499.20" fill="none" stroke="#abdda4" stroke-width="1.0" stroke-opacity="0.8"/>
<polyline points="491.10,497.60 509.80,497.60 546.90,496.60 584.50,495.10 602.90,495.10" fill="none" stroke="#e6f598" stroke-width="1.0" stroke-opacity="0.8"/>
<polyline points="491.10,494.10 509.80,494.10 546.90,492.90 584.50,491.50 602.90,491.50" fill="none" stroke="#ffffbf" stroke-width="1.0" stroke-opacity="0.8"/>
<polyline points="491.10,490.40 509.80,490.40 546.90,489.00 584.50,487.80 602.90,487.80" fill="none" stroke="#fee08b" stroke-width="1.0" stroke-opacity="0.8"/>
<polyline points="491.10,486.40 509.80,486.40 546.90,485.00 584.50,483.30 602.90,483.30" fill="none" stroke="#fdae61" stroke-width="1.0" stroke-opacity="0.8"/>
<polyline points="491.10,481.30 509.80,481.30 546.90,480.30 584.50,478.60 602.90,478.60" fill="none" stroke="#f46d43" stroke-width="1.0" stroke-opacity="0.8"/>
<polyline points="491.10,475.20 509.80,475.20 546.90,473.70 584.50,472.10 602.90,472.10" fill="none" stroke="#d53e4f" stroke-width="1.0" stroke-opacity="0.8"/>
<text x="620.30" y="440.60" font-size="6.85" fill="#1a1a1a">Quantile (p-value)</text>
<line x1="621.10" y1="450.70" x2="631.10" y2="450.70" stroke="#d53e4f" stroke-width="1.1" stroke-opacity="0.85"/>
<text x="635.10" y="453.20" font-size="6.95" fill="#1a1a1a">0.9 (8.4E-107)</text>
<line x1="621.10" y1="462.54" x2="631.10" y2="462.54" stroke="#f46d43" stroke-width="1.1" stroke-opacity="0.85"/>
<text x="635.10" y="465.04" font-size="6.95" fill="#1a1a1a">0.8 (6.4E-123)</text>
<line x1="621.10" y1="474.38" x2="631.10" y2="474.38" stroke="#fdae61" stroke-width="1.1" stroke-opacity="0.85"/>
<text x="635.10" y="476.88" font-size="6.95" fill="#1a1a1a">0.7 (1.2E-118)</text>
<line x1="621.10" y1="486.22" x2="631.10" y2="486.22" stroke="#fee08b" stroke-width="1.1" stroke-opacity="0.85"/>
<text x="635.10" y="488.72" font-size="6.95" fill="#1a1a1a">0.6 (1.2E-114)</text>
<line x1="621.10" y1="498.06" x2="631.10" y2="498.06" stroke="#ffffbf" stroke-width="1.1" stroke-opacity="0.85"/>
<text x="635.10" y="500.56" font-size="6.95" fill="#1a1a1a">0.5 (2.5E-110)</text>
<line x1="621.10" y1="509.90" x2="631.10" y2="509.90" stroke="#e6f598" stroke-width="1.1" stroke-opacity="0.85"/>
<text x="635.10" y="512.40" font-size="6.95" fill="#1a1a1a">0.4 (3.0E-106)</text>
<line x1="621.10" y1="521.74" x2="631.10" y2="521.74" stroke="#abdda4" stroke-width="1.1" stroke-opacity="0.85"/>
<text x="635.10" y="524.24" font-size="6.95" fill="#1a1a1a">0.3 (4.2E-88)</text>
<line x1="621.10" y1="533.58" x2="631.10" y2="533.58" stroke="#66c2a5" stroke-width="1.1" stroke-opacity="0.85"/>
<text x="635.10" y="536.08" font-size="6.95" fill="#1a1a1a">0.2 (5.0E-71)</text>
<line x1="621.10" y1="545.42" x2="631.10" y2="545.42" stroke="#3288bd" stroke-width="1.1" stroke-opacity="0.85"/>
<text x="635.10" y="547.92" font-size="6.95" fill="#1a1a1a">0.1 (1.9E-39)</text>
<text x="1.80" y="598.60" font-size="8.0" font-weight="bold" fill="#000">(d)</text>
<text x="342.50" y="599.20" font-size="8.3" text-anchor="middle" fill="#000">rs11591147 at the PCSK9 locus and LDL</text>
<text x="23.40" y="609.50" font-size="8.2" fill="#000">QR regional plot</text>
<line x1="23.20" y1="734.02" x2="281.00" y2="734.02" stroke="#ececec" stroke-width="0.75" stroke-dasharray="1,2"/>
<line x1="23.20" y1="683.47" x2="281.00" y2="683.47" stroke="#ececec" stroke-width="0.75" stroke-dasharray="1,2"/>
<line x1="23.20" y1="632.92" x2="281.00" y2="632.92" stroke="#ececec" stroke-width="0.75" stroke-dasharray="1,2"/>
<line x1="63.30" y1="615.30" x2="63.30" y2="765.70" stroke="#ececec" stroke-width="0.75" stroke-dasharray="1,2"/>
<line x1="122.00" y1="615.30" x2="122.00" y2="765.70" stroke="#ececec" stroke-width="0.75" stroke-dasharray="1,2"/>
<line x1="180.80" y1="615.30" x2="180.80" y2="765.70" stroke="#ececec" stroke-width="0.75" stroke-dasharray="1,2"/>
<line x1="239.60" y1="615.30" x2="239.60" y2="765.70" stroke="#ececec" stroke-width="0.75" stroke-dasharray="1,2"/>
<line x1="23.20" y1="759.30" x2="281.00" y2="759.30" stroke="#e2e2e2" stroke-width="0.7" stroke-dasharray="3,3"/>
<text x="19.90" y="762.10" font-size="6.75" text-anchor="end" fill="#333333">0</text>
<line x1="23.20" y1="708.75" x2="281.00" y2="708.75" stroke="#e2e2e2" stroke-width="0.7" stroke-dasharray="3,3"/>
<text x="19.90" y="711.55" font-size="6.75" text-anchor="end" fill="#333333">100</text>
<line x1="23.20" y1="658.20" x2="281.00" y2="658.20" stroke="#e2e2e2" stroke-width="0.7" stroke-dasharray="3,3"/>
<text x="19.90" y="661.00" font-size="6.75" text-anchor="end" fill="#333333">200</text>
<line x1="33.90" y1="615.30" x2="33.90" y2="765.70" stroke="#e2e2e2" stroke-width="0.7" stroke-dasharray="3,3"/>
<text x="33.90" y="774.30" font-size="6.75" text-anchor="middle" fill="#333333">55000000</text>
<line x1="92.60" y1="615.30" x2="92.60" y2="765.70" stroke="#e2e2e2" stroke-width="0.7" stroke-dasharray="3,3"/>
<text x="92.60" y="774.30" font-size="6.75" text-anchor="middle" fill="#333333">55250000</text>
<line x1="151.40" y1="615.30" x2="151.40" y2="765.70" stroke="#e2e2e2" stroke-width="0.7" stroke-dasharray="3,3"/>
<text x="151.40" y="774.30" font-size="6.75" text-anchor="middle" fill="#333333">55500000</text>
<line x1="210.20" y1="615.30" x2="210.20" y2="765.70" stroke="#e2e2e2" stroke-width="0.7" stroke-dasharray="3,3"/>
<text x="210.20" y="774.30" font-size="6.75" text-anchor="middle" fill="#333333">55750000</text>
<line x1="269.00" y1="615.30" x2="269.00" y2="765.70" stroke="#e2e2e2" stroke-width="0.7" stroke-dasharray="3,3"/>
<text x="269.00" y="774.30" font-size="6.75" text-anchor="middle" fill="#333333">56000000</text>
<text x="152.10" y="782.80" font-size="6.75" text-anchor="middle" fill="#000">Chromosome 1</text>
<text x="5.60" y="690.50" font-size="6.75" text-anchor="middle" fill="#000" transform="rotate(-90 5.60 690.50)">-log10(P-value)</text>
<polygon points="33.3,760.1 60.0,759.9 100.0,759.4 120.0,758.6 130.0,758.0 134.0,756.1 138.2,755.4 144.3,756.5 146.3,753.4 159.6,749.9 164.7,752.4 168.8,754.4 176.0,751.9 181.1,749.4 187.2,747.4 193.4,751.4 197.4,753.4 198.9,750.9 202.2,747.6 204.2,750.4 205.5,754.2 212.1,756.2 219.3,754.9 223.9,757.5 229.2,757.5 237.0,757.5 244.3,757.4 247.6,758.9 254.1,759.9 271.2,760.9 271.2,759.3 33.3,759.3" fill="#4a76b5"/>
<path d="M35.3 759.3h0M36.4 761.5h0M35.3 760.1h0M35.2 762.6h0M38.6 759.6h0M37.9 761.7h0M40.1 759.6h0M39.4 761.3h0M43.3 759.7h0M42.4 761.8h0M44.9 759.9h0M45.8 761.6h0M48.3 759.4h0M49.5 761.5h0M50.0 759.4h0M51.1 761.6h0M53.1 759.2h0M52.3 760.9h0M54.9 759.5h0M55.2 761.0h0M57.4 759.4h0M57.4 761.2h0M60.2 759.9h0M59.1 762.4h0M61.0 755.8h0M62.0 759.1h0M62.2 760.6h0M64.7 759.5h0M65.8 761.1h0M67.9 759.4h0M67.6 761.4h0M69.6 759.1h0M70.2 761.4h0M72.0 759.1h0M71.7 761.2h0M74.8 758.9h0M75.9 761.0h0M77.3 758.9h0M76.5 761.1h0M79.7 759.0h0M78.6 761.5h0M82.4 758.8h0M83.2 760.8h0M84.6 759.4h0M85.6 760.9h0M87.8 759.3h0M88.9 761.4h0M89.6 759.3h0M89.4 760.9h0M92.3 760.5h0M93.1 762.9h0M95.0 759.2h0M95.5 761.1h0M97.4 758.9h0M98.6 761.3h0M100.0 758.9h0M99.6 760.5h0M102.8 758.8h0M103.5 761.0h0M105.2 758.7h0M105.8 760.6h0M107.3 759.1h0M107.7 760.9h0M110.1 758.2h0M110.3 759.7h0M112.3 758.3h0M113.0 760.5h0M114.8 758.4h0M115.2 760.7h0M117.4 758.4h0M117.8 760.9h0M120.0 758.6h0M120.1 760.3h0M122.9 758.4h0M123.5 760.6h0M125.3 757.6h0M125.5 759.7h0M127.6 757.4h0M128.2 758.9h0M129.9 757.9h0M130.3 759.6h0M132.1 756.7h0M131.5 758.3h0M133.8 755.4h0M133.1 757.1h0M136.1 755.4h0M136.3 757.1h0M137.7 755.0h0M137.5 756.8h0M140.9 755.3h0M139.8 757.5h0M144.3 756.1h0M144.0 758.2h0M146.6 753.3h0M147.0 755.2h0M148.6 752.4h0M148.8 754.9h0M150.8 752.0h0M149.6 753.6h0M153.1 751.6h0M152.2 753.7h0M155.0 750.5h0M154.5 752.9h0M157.8 749.7h0M158.8 751.8h0M160.1 749.5h0M159.6 752.0h0M161.9 750.3h0M161.9 751.9h0M164.6 751.8h0M165.4 753.3h0M166.5 753.4h0M167.6 755.7h0M168.6 754.4h0M168.1 756.5h0M171.3 754.0h0M171.6 756.2h0M173.9 752.1h0M173.5 753.9h0M176.0 751.6h0M175.6 753.9h0M178.1 749.8h0M179.1 752.1h0M180.6 749.0h0M181.3 750.9h0M183.3 748.2h0M184.3 750.1h0M185.5 747.5h0M184.8 749.3h0M186.8 746.8h0M186.6 748.6h0M189.7 748.4h0M188.8 750.4h0M191.3 749.3h0M191.5 751.6h0M193.1 750.7h0M193.9 753.0h0M194.9 751.7h0M196.1 753.9h0M197.7 753.9h0M197.1 756.1h0M199.1 750.3h0M200.1 752.0h0M200.5 748.7h0M199.7 750.8h0M201.8 746.9h0M200.7 749.0h0M204.6 749.6h0M203.7 751.5h0M205.0 752.6h0M204.6 754.1h0M205.2 753.4h0M205.5 755.4h0M207.8 754.3h0M207.9 756.1h0M209.9 755.0h0M209.0 756.7h0M212.3 755.7h0M212.7 757.3h0M214.1 755.6h0M213.2 757.7h0M217.3 754.9h0M218.0 756.5h0M218.9 754.1h0M218.0 756.6h0M221.3 756.4h0M221.7 758.7h0M224.0 757.5h0M223.7 759.3h0M226.7 756.9h0M225.8 759.3h0M229.5 757.1h0M229.3 759.4h0M231.9 757.4h0M231.6 759.0h0M234.1 757.0h0M233.0 759.4h0M237.3 757.2h0M238.2 759.3h0M239.4 756.6h0M238.4 758.2h0M241.7 757.3h0M240.9 759.0h0M244.0 757.1h0M243.5 758.9h0M247.1 758.4h0M248.2 760.6h0M249.7 758.5h0M250.8 760.2h0M251.7 759.1h0M250.9 760.8h0M250.9 757.0h0M254.0 759.8h0M255.1 761.6h0M256.5 759.3h0M257.0 761.0h0M259.2 760.1h0M260.2 762.2h0M261.9 759.6h0M262.6 761.5h0M263.9 759.6h0M265.1 761.6h0M265.9 760.7h0M265.9 763.1h0M268.5 760.3h0M267.4 762.2h0M269.2 760.0h0M35.3 758.6h0M35.3 758.3h0M35.6 759.0h0M37.0 758.7h0M38.4 758.7h0M39.6 758.5h0M40.9 758.7h0M42.7 758.7h0M43.9 758.4h0M44.7 758.7h0M46.3 758.7h0M47.5 758.8h0M49.0 759.0h0M50.1 758.6h0M51.7 758.4h0M52.6 758.5h0M53.9 758.9h0M55.6 758.5h0M56.5 758.3h0M57.8 758.3h0M59.3 758.7h0M60.4 758.3h0M62.0 758.3h0M63.0 758.5h0M64.4 758.3h0M65.8 758.5h0M67.3 758.7h0M68.6 758.8h0M69.9 758.7h0M71.0 758.9h0M72.4 759.0h0M73.7 758.8h0M74.8 758.9h0M76.1 758.4h0M77.2 758.4h0M78.7 758.8h0M80.0 758.3h0M81.6 758.7h0M82.4 758.3h0M83.8 758.5h0M85.5 759.0h0M86.7 758.4h0M87.9 758.5h0M89.1 758.3h0M90.6 758.9h0M91.9 758.3h0M93.1 758.4h0M94.5 758.6h0M96.0 758.9h0M96.8 758.5h0M98.5 758.6h0M99.6 758.6h0M101.1 759.0h0M102.2 759.0h0M103.6 758.3h0M105.0 758.6h0M105.8 759.0h0M107.1 758.7h0M108.7 759.0h0M109.9 758.4h0M111.2 758.4h0M112.6 758.5h0M114.1 758.4h0M115.1 758.4h0M116.8 758.9h0M118.0 758.7h0M119.0 758.4h0M120.6 758.6h0M121.4 758.4h0M122.8 758.8h0M124.5 758.4h0M125.8 758.5h0M127.0 758.9h0M128.3 758.9h0M129.4 758.3h0M130.8 758.7h0M131.9 758.6h0M133.3 758.3h0M134.6 758.6h0M136.0 758.8h0M137.2 759.0h0M138.8 759.0h0M140.0 758.8h0M141.2 758.9h0M142.4 758.7h0M143.9 758.7h0M145.0 758.3h0M146.2 758.5h0M147.7 758.9h0M149.1 758.5h0M150.6 758.5h0M151.7 758.3h0M153.1 758.8h0M154.5 759.0h0M155.6 758.9h0M156.9 758.7h0M157.9 758.7h0M159.6 758.4h0M161.0 758.7h0M161.9 758.3h0M163.2 758.4h0M164.7 759.0h0M166.1 758.7h0M167.1 758.3h0M168.6 758.7h0M169.9 758.5h0M171.3 758.4h0M172.3 758.5h0M173.8 759.0h0M174.8 758.8h0M176.5 758.4h0M177.3 758.7h0M179.1 759.0h0M180.3 758.6h0M181.5 758.7h0M183.0 758.5h0M184.0 758.7h0M185.7 758.4h0M186.4 758.3h0M188.0 758.7h0M189.1 758.4h0M190.7 758.8h0M192.0 758.8h0M192.9 758.6h0M194.7 759.0h0M195.7 758.9h0M197.2 759.0h0M198.2 758.8h0M199.9 758.6h0M200.8 758.4h0M202.1 758.3h0M203.4 758.7h0M204.7 758.9h0M206.3 758.9h0M207.7 758.8h0M209.1 759.0h0M210.2 759.0h0M211.2 758.3h0M212.4 758.4h0M213.9 758.6h0M215.4 758.8h0M216.4 758.6h0M217.9 758.6h0M219.0 758.7h0M220.4 758.8h0M221.8 759.0h0M223.4 758.3h0M224.6 758.8h0M225.6 758.3h0M227.0 758.5h0M228.4 759.0h0M229.5 758.5h0M230.9 758.8h0M232.4 758.7h0M233.4 758.5h0M235.0 758.7h0M235.8 758.6h0M237.2 758.8h0M238.4 758.5h0M239.8 758.6h0M241.6 758.7h0M242.5 759.0h0M243.7 758.5h0M245.4 758.3h0M246.7 758.5h0M247.5 758.5h0M249.1 758.6h0M250.4 758.3h0M251.5 759.0h0M253.0 758.6h0M254.1 758.5h0M255.9 758.8h0M256.9 758.3h0M258.1 758.9h0M259.5 758.7h0M261.0 758.8h0M262.2 758.3h0M263.1 758.9h0M264.6 758.9h0M266.2 759.0h0M267.2 759.0h0M268.8 759.0h0M269.2 758.9h0" stroke="#4a76b5" stroke-width="4.50" stroke-linecap="round" fill="none"/>

<path d="M148.4 733.4h0M148.4 736.5h0M148.4 740.0h0M147.5 743.0h0M149.5 744.5h0M156.1 731.9h0M156.1 735.5h0M156.1 739.0h0M155.5 742.5h0M157.0 745.5h0M152.0 740.5h0M152.5 744.5h0M150.5 747.5h0M154.0 748.5h0M144.1 748.2h0M170.4 735.2h0M182.6 738.3h0M202.2 742.9h0M211.4 745.0h0M159.4 747.4h0M163.8 749.6h0M176.2 748.9h0M187.9 745.3h0M193.0 748.2h0M202.5 743.1h0M201.8 748.2h0M211.5 744.8h0M207.6 751.8h0M147.0 746.5h0M151.0 750.5h0M146.0 750.5h0M157.5 748.5h0M148.3 733.5h0M156.0 733.0h0M148.3 735.5h0M156.0 735.0h0M148.3 737.5h0M156.0 737.0h0M148.3 739.5h0M156.0 739.0h0M148.3 741.5h0M156.0 741.0h0M148.3 743.5h0M156.0 743.0h0M148.3 745.5h0M156.0 745.0h0M148.3 747.5h0M156.0 747.0h0M148.3 749.5h0M156.0 749.0h0M148.3 751.5h0M156.0 751.0h0M148.3 753.5h0M156.0 753.0h0M146.5 740.5h0M149.5 740.5h0M152.2 740.5h0M154.8 740.5h0M157.3 740.5h0M146.5 742.5h0M149.5 742.5h0M152.2 742.5h0M154.8 742.5h0M157.3 742.5h0M146.5 744.5h0M149.5 744.5h0M152.2 744.5h0M154.8 744.5h0M157.3 744.5h0M146.5 746.5h0M149.5 746.5h0M152.2 746.5h0M154.8 746.5h0M157.3 746.5h0M146.5 748.5h0M149.5 748.5h0M152.2 748.5h0M154.8 748.5h0M157.3 748.5h0M146.5 750.5h0M149.5 750.5h0M152.2 750.5h0M154.8 750.5h0M157.3 750.5h0M146.5 752.5h0M149.5 752.5h0M152.2 752.5h0M154.8 752.5h0M157.3 752.5h0" stroke="#4a76b5" stroke-width="4.50" stroke-linecap="round" fill="none"/>
<path d="M191.6 728.8h0" stroke="#78b1d4" stroke-width="4.50" stroke-linecap="round" fill="none"/>



<polygon points="152.40,619.00 155.70,622.30 152.40,625.60 149.10,622.30" fill="#d7302a"/>
<line x1="23.20" y1="755.61" x2="281.00" y2="755.61" stroke="#555555" stroke-width="1.05" stroke-dasharray="4.2,1.75"/>
<text x="287.0" y="665.60" font-size="6.75">LD (r<tspan font-size="4.6" dy="-2.7">2</tspan><tspan dy="2.7">)</tspan></text>
<rect x="287.10" y="671.50" width="11.00" height="10.60" fill="#d7302a"/>
<text x="301.80" y="679.20" font-size="6.75" fill="#000">1</text>
<rect x="287.10" y="683.30" width="11.00" height="10.60" fill="#ef6a41"/>
<text x="301.80" y="691.00" font-size="6.75" fill="#000">0.8</text>
<rect x="287.10" y="695.10" width="11.00" height="10.60" fill="#efdd8c"/>
<text x="301.80" y="702.80" font-size="6.75" fill="#000">0.6</text>
<rect x="287.10" y="706.90" width="11.00" height="10.60" fill="#78b1d4"/>
<text x="301.80" y="714.60" font-size="6.75" fill="#000">0.4</text>
<rect x="287.10" y="718.70" width="11.00" height="10.60" fill="#4a76b5"/>
<text x="301.80" y="726.40" font-size="6.75" fill="#000">0.2</text>
<text x="345.00" y="609.50" font-size="8.2" fill="#000">Effect size for rs11591147</text>
<line x1="344.80" y1="616.45" x2="454.30" y2="616.45" stroke="#e2e2e2" stroke-width="0.7" stroke-dasharray="3,3"/>
<text x="341.20" y="619.25" font-size="6.75" text-anchor="end" fill="#333333">-0.25</text>
<line x1="344.80" y1="655.30" x2="454.30" y2="655.30" stroke="#e2e2e2" stroke-width="0.7" stroke-dasharray="3,3"/>
<text x="341.20" y="658.10" font-size="6.75" text-anchor="end" fill="#333333">-0.30</text>
<line x1="344.80" y1="694.15" x2="454.30" y2="694.15" stroke="#e2e2e2" stroke-width="0.7" stroke-dasharray="3,3"/>
<text x="341.20" y="696.95" font-size="6.75" text-anchor="end" fill="#333333">-0.35</text>
<line x1="344.80" y1="733.00" x2="454.30" y2="733.00" stroke="#e2e2e2" stroke-width="0.7" stroke-dasharray="3,3"/>
<text x="341.20" y="735.80" font-size="6.75" text-anchor="end" fill="#333333">-0.40</text>
<line x1="349.60" y1="615.30" x2="349.60" y2="765.70" stroke="#e2e2e2" stroke-width="0.7" stroke-dasharray="3,3"/>
<text x="349.60" y="774.30" font-size="6.75" text-anchor="middle" fill="#333333">0.1</text>
<line x1="374.50" y1="615.30" x2="374.50" y2="765.70" stroke="#e2e2e2" stroke-width="0.7" stroke-dasharray="3,3"/>
<text x="374.50" y="774.30" font-size="6.75" text-anchor="middle" fill="#333333">0.3</text>
<line x1="399.40" y1="615.30" x2="399.40" y2="765.70" stroke="#e2e2e2" stroke-width="0.7" stroke-dasharray="3,3"/>
<text x="399.40" y="774.30" font-size="6.75" text-anchor="middle" fill="#333333">0.5</text>
<line x1="424.30" y1="615.30" x2="424.30" y2="765.70" stroke="#e2e2e2" stroke-width="0.7" stroke-dasharray="3,3"/>
<text x="424.30" y="774.30" font-size="6.75" text-anchor="middle" fill="#333333">0.7</text>
<line x1="449.20" y1="615.30" x2="449.20" y2="765.70" stroke="#e2e2e2" stroke-width="0.7" stroke-dasharray="3,3"/>
<text x="449.20" y="774.30" font-size="6.75" text-anchor="middle" fill="#333333">0.9</text>
<text x="399.55" y="782.80" font-size="6.75" text-anchor="middle" fill="#000">Quantile</text>
<text x="323.00" y="690.50" font-size="6.75" text-anchor="middle" fill="#000" transform="rotate(-90 323.00 690.50)">Beta</text>
<line x1="350.20" y1="691.60" x2="449.20" y2="691.60" stroke="#666666" stroke-width="1.3" stroke-dasharray="5.7,6.0"/>
<line x1="349.60" y1="621.60" x2="349.60" y2="646.80" stroke="#3288bd" stroke-width="1.3" stroke-opacity="0.65"/>
<circle cx="349.60" cy="634.60" r="2.9" fill="#3288bd"/>
<line x1="362.05" y1="643.00" x2="362.05" y2="664.60" stroke="#66c2a5" stroke-width="1.3" stroke-opacity="0.65"/>
<circle cx="362.05" cy="653.70" r="2.9" fill="#66c2a5"/>
<line x1="374.50" y1="649.80" x2="374.50" y2="667.80" stroke="#abdda4" stroke-width="1.3" stroke-opacity="0.65"/>
<circle cx="374.50" cy="658.90" r="2.9" fill="#abdda4"/>
<line x1="386.95" y1="670.20" x2="386.95" y2="686.50" stroke="#e6f598" stroke-width="1.3" stroke-opacity="0.65"/>
<circle cx="386.95" cy="678.60" r="2.9" fill="#e6f598"/>
<line x1="399.40" y1="690.60" x2="399.40" y2="706.80" stroke="#ffffbf" stroke-width="1.3" stroke-opacity="0.65"/>
<circle cx="399.40" cy="698.30" r="2.9" fill="#ffffbf"/>
<line x1="411.85" y1="700.80" x2="411.85" y2="718.70" stroke="#fee08b" stroke-width="1.3" stroke-opacity="0.65"/>
<circle cx="411.85" cy="709.80" r="2.9" fill="#fee08b"/>
<line x1="424.30" y1="717.20" x2="424.30" y2="733.60" stroke="#fdae61" stroke-width="1.3" stroke-opacity="0.65"/>
<circle cx="424.30" cy="725.40" r="2.9" fill="#fdae61"/>
<line x1="436.75" y1="737.90" x2="436.75" y2="757.00" stroke="#f46d43" stroke-width="1.3" stroke-opacity="0.65"/>
<circle cx="436.75" cy="747.30" r="2.9" fill="#f46d43"/>
<line x1="449.20" y1="735.40" x2="449.20" y2="759.50" stroke="#d53e4f" stroke-width="1.3" stroke-opacity="0.65"/>
<circle cx="449.20" cy="747.30" r="2.9" fill="#d53e4f"/>
<line x1="344.70" y1="621.40" x2="351.00" y2="621.40" stroke="#555555" stroke-width="1.3"/>
<text x="355.80" y="624.10" font-size="6.85" fill="#000">LR (beta = -0.35; p = 9.2E-281)</text>
<text x="485.50" y="609.70" font-size="8.2" fill="#000">Empirical conditional quantile functions for rs11591147</text>
<line x1="485.30" y1="616.25" x2="608.50" y2="616.25" stroke="#e2e2e2" stroke-width="0.7" stroke-dasharray="3,3"/>
<text x="481.90" y="619.05" font-size="6.75" text-anchor="end" fill="#333333">5.0</text>
<line x1="485.30" y1="653.38" x2="608.50" y2="653.38" stroke="#e2e2e2" stroke-width="0.7" stroke-dasharray="3,3"/>
<text x="481.90" y="656.17" font-size="6.75" text-anchor="end" fill="#333333">2.5</text>
<line x1="485.30" y1="690.50" x2="608.50" y2="690.50" stroke="#e2e2e2" stroke-width="0.7" stroke-dasharray="3,3"/>
<text x="481.90" y="693.30" font-size="6.75" text-anchor="end" fill="#333333">0.0</text>
<line x1="485.30" y1="727.62" x2="608.50" y2="727.62" stroke="#e2e2e2" stroke-width="0.7" stroke-dasharray="3,3"/>
<text x="481.90" y="730.42" font-size="6.75" text-anchor="end" fill="#333333">-2.5</text>
<line x1="485.30" y1="764.75" x2="608.50" y2="764.75" stroke="#e2e2e2" stroke-width="0.7" stroke-dasharray="3,3"/>
<text x="481.90" y="767.55" font-size="6.75" text-anchor="end" fill="#333333">-5.0</text>
<line x1="509.80" y1="615.30" x2="509.80" y2="765.70" stroke="#e2e2e2" stroke-width="0.7" stroke-dasharray="3,3"/>
<text x="509.80" y="774.30" font-size="6.75" text-anchor="middle" fill="#333333">0</text>
<line x1="546.90" y1="615.30" x2="546.90" y2="765.70" stroke="#e2e2e2" stroke-width="0.7" stroke-dasharray="3,3"/>
<text x="546.90" y="774.30" font-size="6.75" text-anchor="middle" fill="#333333">1</text>
<line x1="584.50" y1="615.30" x2="584.50" y2="765.70" stroke="#e2e2e2" stroke-width="0.7" stroke-dasharray="3,3"/>
<text x="584.50" y="774.30" font-size="6.75" text-anchor="middle" fill="#333333">2</text>
<text x="548.50" y="782.80" font-size="6.75" text-anchor="middle" fill="#000">Genotype</text>
<text x="466.60" y="690.50" font-size="6.75" text-anchor="middle" fill="#000" transform="rotate(-90 466.60 690.50)">Trait</text>
<rect x="504.30" y="631.00" width="11.00" height="117.50" fill="#bebebe"/>
<path d="M507.5 630.6h0M513.4 631.5h0M511.4 629.4h0M508.8 629.6h0M510.5 628.1h0M511.2 627.4h0M509.3 626.5h0M506.8 631.5h0M506.9 628.1h0M510.8 628.8h0M512.2 631.8h0M513.0 631.9h0M507.4 626.5h0M511.8 628.1h0M511.3 631.6h0M513.4 631.6h0M513.9 628.5h0M508.2 631.8h0M510.7 629.1h0M513.1 631.4h0M508.1 626.4h0M511.2 631.5h0M511.2 630.4h0M508.9 630.0h0M506.7 631.9h0M511.8 630.2h0M511.9 630.3h0M513.1 629.7h0M508.3 628.8h0M506.1 631.6h0M512.9 631.9h0M512.0 625.8h0M511.2 631.7h0M513.1 631.6h0M511.9 628.8h0M509.1 629.2h0M513.8 626.3h0M509.3 631.2h0M511.3 628.0h0M509.4 630.4h0M507.9 621.7h0M511.4 631.3h0M513.2 631.0h0M513.5 630.8h0M513.1 630.6h0M511.8 627.8h0M506.9 631.3h0M507.1 631.9h0M506.1 628.7h0M510.4 631.2h0M508.3 631.5h0M511.3 631.2h0M514.1 631.6h0M511.6 629.3h0M509.8 629.6h0M513.2 758.1h0M505.8 752.7h0M513.6 750.2h0M509.9 750.6h0M507.0 750.6h0M512.2 751.4h0M509.9 747.7h0M508.5 750.2h0M513.4 750.9h0M508.1 754.6h0M512.8 748.0h0M512.6 750.3h0M507.9 753.6h0M508.1 750.2h0M511.4 752.3h0M509.8 748.3h0M507.5 750.2h0M509.6 748.1h0M509.8 747.7h0M512.6 755.9h0M512.6 747.7h0M511.6 751.3h0M512.0 747.6h0M512.4 748.2h0M508.7 748.7h0M513.0 748.1h0M513.0 748.3h0M506.8 749.7h0M510.1 750.7h0M512.6 747.6h0M505.7 748.4h0M511.8 751.9h0M507.1 749.0h0M510.5 749.7h0M509.7 751.0h0M511.7 750.0h0M507.1 748.1h0M512.0 749.5h0M512.8 752.4h0M511.6 749.2h0M508.8 747.8h0M512.7 747.7h0M511.3 759.5h0M508.7 751.7h0M506.2 752.3h0M508.5 748.9h0M507.0 753.5h0M506.3 748.0h0M508.2 753.1h0M508.2 754.5h0M507.2 752.9h0M513.9 754.5h0M511.5 753.8h0M513.4 754.3h0M507.9 757.5h0M508.4 622.2h0M513.1 624.7h0M506.4 754.3h0M512.5 759.8h0" stroke="#bebebe" stroke-width="2.5" stroke-linecap="round" fill="none"/>
<rect x="541.70" y="651.50" width="10.40" height="84.80" fill="#bebebe"/>
<path d="M543.1 650.3h0M544.7 651.8h0M548.3 649.6h0M543.6 647.6h0M543.1 651.3h0M546.9 652.0h0M544.5 652.4h0M547.3 650.2h0M547.6 652.0h0M543.0 648.9h0M548.5 648.9h0M544.1 651.6h0M545.6 645.6h0M543.7 652.3h0M547.7 648.4h0M548.7 648.9h0M550.7 650.8h0M547.3 651.5h0M547.8 648.6h0M547.5 648.1h0M543.3 649.8h0M545.2 651.9h0M544.8 652.3h0M545.1 652.3h0M545.8 650.3h0M544.6 651.5h0M550.4 651.8h0M547.8 650.2h0M548.7 652.1h0M545.9 652.1h0M548.0 643.7h0M548.4 650.7h0M549.1 648.4h0M543.2 651.9h0M545.0 651.7h0M550.4 652.0h0M545.4 647.9h0M546.1 650.2h0M546.6 647.1h0M544.9 651.8h0M545.0 737.1h0M550.1 737.2h0M544.7 736.4h0M547.0 744.1h0M543.3 735.5h0M547.9 735.6h0M546.3 738.8h0M546.0 735.4h0M547.1 744.1h0M549.8 743.1h0M548.7 735.3h0M547.2 737.8h0M548.0 736.0h0M546.4 735.6h0M550.5 736.6h0M545.0 739.9h0M544.3 736.8h0M549.9 740.7h0M548.0 736.1h0M544.1 737.4h0M547.2 738.5h0M547.1 738.6h0M545.5 735.3h0M550.3 735.3h0M549.6 739.9h0M543.4 736.1h0M550.5 739.9h0M546.8 735.5h0M549.0 735.5h0M543.9 738.5h0M547.3 736.7h0M549.9 736.0h0M544.6 736.5h0M548.7 737.0h0M545.4 735.8h0M548.1 744.1h0M547.0 736.6h0M544.7 735.6h0M547.6 736.2h0M544.7 735.9h0M549.4 644.6h0M543.5 649.0h0M546.1 750.6h0" stroke="#bebebe" stroke-width="2.5" stroke-linecap="round" fill="none"/>
<path d="M580.8 664.0h0M580.8 669.5h0M586.3 672.0h0M583.8 675.0h0M587.2 679.0h0M585.0 744.5h0M583.0 740.0h0M582.4 706.2h0M587.1 692.8h0M585.0 713.2h0M585.4 712.0h0M584.5 713.3h0M587.3 716.4h0M581.9 732.6h0M587.0 708.3h0M582.0 680.2h0M583.1 702.0h0M584.8 720.8h0M582.1 713.9h0M582.1 704.8h0M585.0 707.6h0M581.1 685.7h0M587.2 710.2h0M586.4 722.6h0M587.3 700.8h0M581.1 714.0h0M586.8 710.5h0M584.1 697.5h0M586.7 701.7h0M588.0 697.2h0M581.0 701.0h0M586.5 720.9h0M584.7 676.0h0M586.4 705.6h0M586.6 716.3h0M580.8 681.2h0M584.5 722.3h0M588.4 714.0h0M581.4 705.8h0M586.0 728.9h0M580.9 700.7h0M581.3 684.9h0M582.9 706.3h0M587.8 722.4h0M587.9 715.6h0M581.0 703.1h0M584.4 687.3h0M580.7 704.3h0M580.6 682.9h0M581.4 726.2h0M583.6 717.3h0M581.6 678.4h0M582.6 706.8h0M581.8 703.7h0M580.7 698.0h0M584.5 711.4h0M583.5 700.7h0M585.3 721.8h0M584.4 700.8h0M581.3 700.4h0M585.5 725.8h0M584.1 700.3h0M582.0 712.3h0M580.7 699.1h0M581.6 700.5h0M584.6 723.8h0M585.9 716.2h0M588.1 704.3h0M583.6 695.9h0M586.1 689.5h0M586.6 706.4h0M583.9 710.8h0M582.5 724.1h0M587.4 719.0h0M583.1 684.7h0M588.3 720.8h0M586.5 692.3h0" stroke="#bebebe" stroke-width="2.5" stroke-linecap="round" fill="none"/>
<polyline points="491.10,709.40 509.80,709.80 546.90,713.50 584.50,725.70 602.90,725.70" fill="none" stroke="#3288bd" stroke-width="1.0" stroke-opacity="0.8"/>
<polyline points="491.10,703.30 509.80,703.70 546.90,707.80 584.50,714.90 602.90,714.90" fill="none" stroke="#66c2a5" stroke-width="1.0" stroke-opacity="0.8"/>
<polyline points="491.10,698.20 509.80,698.60 546.90,704.30 584.50,711.30 602.90,711.30" fill="none" stroke="#abdda4" stroke-width="1.0" stroke-opacity="0.8"/>
<polyline points="491.10,694.10 509.80,694.60 546.90,700.30 584.50,706.80 602.90,706.80" fill="none" stroke="#e6f598" stroke-width="1.0" stroke-opacity="0.8"/>
<polyline points="491.10,690.50 509.80,690.90 546.90,696.60 584.50,703.30 602.90,703.30" fill="none" stroke="#ffffbf" stroke-width="1.0" stroke-opacity="0.8"/>
<polyline points="491.10,686.40 509.80,686.80 546.90,692.50 584.50,700.10 602.90,700.10" fill="none" stroke="#fee08b" stroke-width="1.0" stroke-opacity="0.8"/>
<polyline points="491.10,682.30 509.80,682.70 546.90,688.40 584.50,696.20 602.90,696.20" fill="none" stroke="#fdae61" stroke-width="1.0" stroke-opacity="0.8"/>
<polyline points="491.10,677.80 509.80,678.30 546.90,683.80 584.50,693.10 602.90,693.10" fill="none" stroke="#f46d43" stroke-width="1.0" stroke-opacity="0.8"/>
<polyline points="491.10,671.10 509.80,671.10 546.90,677.20 584.50,687.40 602.90,687.40" fill="none" stroke="#d53e4f" stroke-width="1.0" stroke-opacity="0.8"/>
<text x="620.30" y="638.10" font-size="6.85" fill="#1a1a1a">Quantile (p-value)</text>
<line x1="621.10" y1="648.20" x2="631.10" y2="648.20" stroke="#d53e4f" stroke-width="1.1" stroke-opacity="0.85"/>
<text x="635.10" y="650.70" font-size="6.95" fill="#1a1a1a">0.9 (7.2E-86)</text>
<line x1="621.10" y1="660.04" x2="631.10" y2="660.04" stroke="#f46d43" stroke-width="1.1" stroke-opacity="0.85"/>
<text x="635.10" y="662.54" font-size="6.95" fill="#1a1a1a">0.8 (5.3E-137)</text>
<line x1="621.10" y1="671.88" x2="631.10" y2="671.88" stroke="#fdae61" stroke-width="1.1" stroke-opacity="0.85"/>
<text x="635.10" y="674.38" font-size="6.95" fill="#1a1a1a">0.7 (1.8E-183)</text>
<line x1="621.10" y1="683.72" x2="631.10" y2="683.72" stroke="#fee08b" stroke-width="1.1" stroke-opacity="0.85"/>
<text x="635.10" y="686.22" font-size="6.95" fill="#1a1a1a">0.6 (1.0E-202)</text>
<line x1="621.10" y1="695.56" x2="631.10" y2="695.56" stroke="#ffffbf" stroke-width="1.1" stroke-opacity="0.85"/>
<text x="635.10" y="698.06" font-size="6.95" fill="#1a1a1a">0.5 (2.2E-200)</text>
<line x1="621.10" y1="707.40" x2="631.10" y2="707.40" stroke="#e6f598" stroke-width="1.1" stroke-opacity="0.85"/>
<text x="635.10" y="709.90" font-size="6.95" fill="#1a1a1a">0.4 (1.2E-201)</text>
<line x1="621.10" y1="719.24" x2="631.10" y2="719.24" stroke="#abdda4" stroke-width="1.1" stroke-opacity="0.85"/>
<text x="635.10" y="721.74" font-size="6.95" fill="#1a1a1a">0.3 (2.6E-167)</text>
<line x1="621.10" y1="731.08" x2="631.10" y2="731.08" stroke="#66c2a5" stroke-width="1.1" stroke-opacity="0.85"/>
<text x="635.10" y="733.58" font-size="6.95" fill="#1a1a1a">0.2 (3.4E-132)</text>
<line x1="621.10" y1="742.92" x2="631.10" y2="742.92" stroke="#3288bd" stroke-width="1.1" stroke-opacity="0.85"/>
<text x="635.10" y="745.42" font-size="6.95" fill="#1a1a1a">0.1 (1.7E-98)</text>
</svg></body></html>
